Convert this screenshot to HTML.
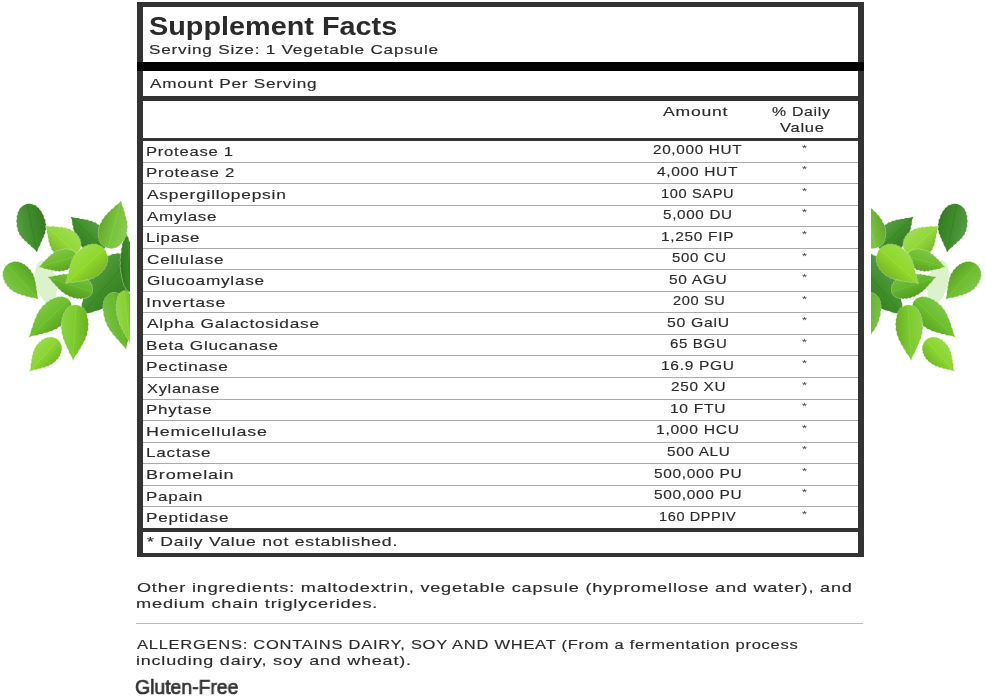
<!DOCTYPE html>
<html><head><meta charset="utf-8"><style>
html,body{margin:0;padding:0;background:#fff;width:986px;height:697px;overflow:hidden;position:relative}
.tx{position:absolute;height:0;line-height:0;white-space:pre;transform-origin:0 0;will-change:transform}
</style></head><body>
<div style="position:absolute;left:136.5px;top:2.15px;width:727.50px;height:4.65px;background:#333"></div>
<div style="position:absolute;left:136.5px;top:2.15px;width:6.50px;height:554.75px;background:#333"></div>
<div style="position:absolute;left:858px;top:2.15px;width:6.00px;height:554.75px;background:#333"></div>
<div style="position:absolute;left:136.5px;top:552.8px;width:727.50px;height:4.10px;background:#333"></div>
<div style="position:absolute;left:137px;top:62px;width:727px;height:9px;background:#000"></div>
<div style="position:absolute;left:143px;top:96.2px;width:715.00px;height:4.70px;background:#333"></div>
<div style="position:absolute;left:143px;top:138.2px;width:715px;height:2.8px;background:#333"></div>
<div style="position:absolute;left:143px;top:528.3px;width:715px;height:3.7px;background:#333"></div>
<div style="position:absolute;left:143px;top:161.60px;width:715px;height:1px;background:#aaa"></div>
<div style="position:absolute;left:143px;top:183.14px;width:715px;height:1px;background:#aaa"></div>
<div style="position:absolute;left:143px;top:204.68px;width:715px;height:1px;background:#aaa"></div>
<div style="position:absolute;left:143px;top:226.22px;width:715px;height:1px;background:#aaa"></div>
<div style="position:absolute;left:143px;top:247.76px;width:715px;height:1px;background:#aaa"></div>
<div style="position:absolute;left:143px;top:269.30px;width:715px;height:1px;background:#aaa"></div>
<div style="position:absolute;left:143px;top:290.84px;width:715px;height:1px;background:#aaa"></div>
<div style="position:absolute;left:143px;top:312.38px;width:715px;height:1px;background:#aaa"></div>
<div style="position:absolute;left:143px;top:333.92px;width:715px;height:1px;background:#aaa"></div>
<div style="position:absolute;left:143px;top:355.46px;width:715px;height:1px;background:#aaa"></div>
<div style="position:absolute;left:143px;top:377.00px;width:715px;height:1px;background:#aaa"></div>
<div style="position:absolute;left:143px;top:398.54px;width:715px;height:1px;background:#aaa"></div>
<div style="position:absolute;left:143px;top:420.08px;width:715px;height:1px;background:#aaa"></div>
<div style="position:absolute;left:143px;top:441.62px;width:715px;height:1px;background:#aaa"></div>
<div style="position:absolute;left:143px;top:463.16px;width:715px;height:1px;background:#aaa"></div>
<div style="position:absolute;left:143px;top:484.70px;width:715px;height:1px;background:#aaa"></div>
<div style="position:absolute;left:143px;top:506.24px;width:715px;height:1px;background:#aaa"></div>
<div class='tx' style='left:802.2px;top:147.80px;font-family:"Liberation Sans",sans-serif;font-size:9.5px;color:#444;transform:scaleX(1.35)'>*</div>
<div class='tx' style='left:802.2px;top:169.34px;font-family:"Liberation Sans",sans-serif;font-size:9.5px;color:#444;transform:scaleX(1.35)'>*</div>
<div class='tx' style='left:802.2px;top:190.88px;font-family:"Liberation Sans",sans-serif;font-size:9.5px;color:#444;transform:scaleX(1.35)'>*</div>
<div class='tx' style='left:802.2px;top:212.42px;font-family:"Liberation Sans",sans-serif;font-size:9.5px;color:#444;transform:scaleX(1.35)'>*</div>
<div class='tx' style='left:802.2px;top:233.96px;font-family:"Liberation Sans",sans-serif;font-size:9.5px;color:#444;transform:scaleX(1.35)'>*</div>
<div class='tx' style='left:802.2px;top:255.50px;font-family:"Liberation Sans",sans-serif;font-size:9.5px;color:#444;transform:scaleX(1.35)'>*</div>
<div class='tx' style='left:802.2px;top:277.04px;font-family:"Liberation Sans",sans-serif;font-size:9.5px;color:#444;transform:scaleX(1.35)'>*</div>
<div class='tx' style='left:802.2px;top:298.58px;font-family:"Liberation Sans",sans-serif;font-size:9.5px;color:#444;transform:scaleX(1.35)'>*</div>
<div class='tx' style='left:802.2px;top:320.12px;font-family:"Liberation Sans",sans-serif;font-size:9.5px;color:#444;transform:scaleX(1.35)'>*</div>
<div class='tx' style='left:802.2px;top:341.66px;font-family:"Liberation Sans",sans-serif;font-size:9.5px;color:#444;transform:scaleX(1.35)'>*</div>
<div class='tx' style='left:802.2px;top:363.20px;font-family:"Liberation Sans",sans-serif;font-size:9.5px;color:#444;transform:scaleX(1.35)'>*</div>
<div class='tx' style='left:802.2px;top:384.74px;font-family:"Liberation Sans",sans-serif;font-size:9.5px;color:#444;transform:scaleX(1.35)'>*</div>
<div class='tx' style='left:802.2px;top:406.28px;font-family:"Liberation Sans",sans-serif;font-size:9.5px;color:#444;transform:scaleX(1.35)'>*</div>
<div class='tx' style='left:802.2px;top:427.82px;font-family:"Liberation Sans",sans-serif;font-size:9.5px;color:#444;transform:scaleX(1.35)'>*</div>
<div class='tx' style='left:802.2px;top:449.36px;font-family:"Liberation Sans",sans-serif;font-size:9.5px;color:#444;transform:scaleX(1.35)'>*</div>
<div class='tx' style='left:802.2px;top:470.90px;font-family:"Liberation Sans",sans-serif;font-size:9.5px;color:#444;transform:scaleX(1.35)'>*</div>
<div class='tx' style='left:802.2px;top:492.44px;font-family:"Liberation Sans",sans-serif;font-size:9.5px;color:#444;transform:scaleX(1.35)'>*</div>
<div class='tx' style='left:802.2px;top:513.98px;font-family:"Liberation Sans",sans-serif;font-size:9.5px;color:#444;transform:scaleX(1.35)'>*</div>
<div style="position:absolute;left:136px;top:623px;width:727px;height:1px;background:#bbb"></div>
<svg style="position:absolute;left:0;top:0" width="130" height="697" viewBox="0 0 130 697"><defs><linearGradient id="Lg1" gradientUnits="userSpaceOnUse" x1="125.9" y1="294.9" x2="94.1" y2="267.5"><stop offset="0" stop-color="#367a23"/><stop offset="0.5" stop-color="#3f8e29"/><stop offset="1" stop-color="#569b42"/></linearGradient><linearGradient id="Lg2" gradientUnits="userSpaceOnUse" x1="121.1" y1="267.9" x2="136.1" y2="266.5"><stop offset="0" stop-color="#327620"/><stop offset="0.5" stop-color="#3b8a26"/><stop offset="1" stop-color="#529840"/></linearGradient><linearGradient id="Lg3" gradientUnits="userSpaceOnUse" x1="29.4" y1="269.5" x2="9.4" y2="287.7"><stop offset="0" stop-color="#5ca227"/><stop offset="0.5" stop-color="#6cbd2e"/><stop offset="1" stop-color="#7dc447"/></linearGradient><linearGradient id="Lg4" gradientUnits="userSpaceOnUse" x1="44.7" y1="220.3" x2="17.3" y2="226.1"><stop offset="0" stop-color="#367924"/><stop offset="0.5" stop-color="#3f8d2b"/><stop offset="1" stop-color="#569a44"/></linearGradient><linearGradient id="Lg5" gradientUnits="userSpaceOnUse" x1="81.4" y1="245.9" x2="100.2" y2="226.5"><stop offset="0" stop-color="#367a24"/><stop offset="0.5" stop-color="#3f8f2a"/><stop offset="1" stop-color="#569c43"/></linearGradient><linearGradient id="Lg6" gradientUnits="userSpaceOnUse" x1="100.2" y1="225.6" x2="126.2" y2="232.8"><stop offset="0" stop-color="#67a831"/><stop offset="0.5" stop-color="#78c43a"/><stop offset="1" stop-color="#88cb51"/></linearGradient><linearGradient id="Lg7" gradientUnits="userSpaceOnUse" x1="55.2" y1="253.2" x2="74.0" y2="232.4"><stop offset="0" stop-color="#7db930"/><stop offset="0.5" stop-color="#92d838"/><stop offset="1" stop-color="#9fdc4f"/></linearGradient><linearGradient id="Lg8" gradientUnits="userSpaceOnUse" x1="64.6" y1="270.0" x2="59.0" y2="250.8"><stop offset="0" stop-color="#5da225"/><stop offset="0.5" stop-color="#6dbd2c"/><stop offset="1" stop-color="#7ec445"/></linearGradient><linearGradient id="Lg9" gradientUnits="userSpaceOnUse" x1="70.9" y1="296.4" x2="77.9" y2="275.6"><stop offset="0" stop-color="#549b24"/><stop offset="0.5" stop-color="#62b52a"/><stop offset="1" stop-color="#74bd43"/></linearGradient><linearGradient id="Lg10" gradientUnits="userSpaceOnUse" x1="98.8" y1="273.8" x2="78.8" y2="251.4"><stop offset="0" stop-color="#7ab925"/><stop offset="0.5" stop-color="#8fd82c"/><stop offset="1" stop-color="#9cdc45"/></linearGradient><linearGradient id="Lg11" gradientUnits="userSpaceOnUse" x1="61.8" y1="324.3" x2="44.2" y2="305.3"><stop offset="0" stop-color="#5ca425"/><stop offset="0.5" stop-color="#6cbf2c"/><stop offset="1" stop-color="#7dc645"/></linearGradient><linearGradient id="Lg12" gradientUnits="userSpaceOnUse" x1="130.2" y1="312.2" x2="105.0" y2="318.6"><stop offset="0" stop-color="#579e25"/><stop offset="0.5" stop-color="#66b82c"/><stop offset="1" stop-color="#78c045"/></linearGradient><linearGradient id="Lg13" gradientUnits="userSpaceOnUse" x1="135.3" y1="310.8" x2="117.5" y2="312.8"><stop offset="0" stop-color="#73b229"/><stop offset="0.5" stop-color="#86d030"/><stop offset="1" stop-color="#94d548"/></linearGradient><linearGradient id="Lg14" gradientUnits="userSpaceOnUse" x1="87.8" y1="327.7" x2="61.8" y2="326.3"><stop offset="0" stop-color="#6aaf25"/><stop offset="0.5" stop-color="#7ccc2c"/><stop offset="1" stop-color="#8bd245"/></linearGradient><linearGradient id="Lg15" gradientUnits="userSpaceOnUse" x1="55.7" y1="360.4" x2="37.9" y2="344.4"><stop offset="0" stop-color="#76b829"/><stop offset="0.5" stop-color="#8ad630"/><stop offset="1" stop-color="#98da48"/></linearGradient></defs><ellipse cx="46" cy="282" rx="10" ry="22" transform="rotate(-12 46 282)" fill="#dcf2cc"/><path d="M130.0,258.0 L127.9,256.4 L125.6,255.2 L123.2,254.4 L120.7,253.9 L117.6,253.3 L115.5,254.0 L112.4,254.1 L110.2,255.4 L107.0,256.1 L104.9,257.9 L101.8,259.2 L99.8,261.6 L96.9,263.4 L95.1,266.3 L92.1,269.0 L90.6,272.7 L88.4,275.5 L87.5,279.3 L85.8,282.2 L85.4,286.2 L84.1,289.3 L84.0,293.3 L82.9,296.5 L82.9,300.7 L81.8,304.0 L81.6,308.3 L80.9,312.1 L80.0,316.0 L80.0,316.0 L83.7,314.5 L87.4,313.2 L91.6,312.5 L94.7,310.9 L98.8,310.3 L101.8,308.7 L105.8,308.0 L108.7,306.3 L112.5,305.3 L115.2,303.2 L118.9,301.8 L121.3,299.1 L124.7,297.1 L126.9,293.8 L129.5,291.6 L130.9,288.4 L133.0,286.1 L133.8,282.8 L135.3,280.4 L135.5,277.2 L136.5,274.9 L136.1,271.7 L136.4,269.5 L135.4,266.6 L134.6,264.2 L133.4,261.9 L131.9,259.9 L130.0,258.0Z" fill="none" stroke="#d8f2b8" stroke-width="1.4" opacity="0.5"/><path d="M130.0,258.0 L127.9,256.4 L125.6,255.2 L123.2,254.4 L120.7,253.9 L117.6,253.3 L115.5,254.0 L112.4,254.1 L110.2,255.4 L107.0,256.1 L104.9,257.9 L101.8,259.2 L99.8,261.6 L96.9,263.4 L95.1,266.3 L92.1,269.0 L90.6,272.7 L88.4,275.5 L87.5,279.3 L85.8,282.2 L85.4,286.2 L84.1,289.3 L84.0,293.3 L82.9,296.5 L82.9,300.7 L81.8,304.0 L81.6,308.3 L80.9,312.1 L80.0,316.0 L80.0,316.0 L83.7,314.5 L87.4,313.2 L91.6,312.5 L94.7,310.9 L98.8,310.3 L101.8,308.7 L105.8,308.0 L108.7,306.3 L112.5,305.3 L115.2,303.2 L118.9,301.8 L121.3,299.1 L124.7,297.1 L126.9,293.8 L129.5,291.6 L130.9,288.4 L133.0,286.1 L133.8,282.8 L135.3,280.4 L135.5,277.2 L136.5,274.9 L136.1,271.7 L136.4,269.5 L135.4,266.6 L134.6,264.2 L133.4,261.9 L131.9,259.9 L130.0,258.0Z" fill="url(#Lg1)"/><path d="M130.0,258.0L80.0,316.0" stroke="#2f7520" stroke-width="0.9" opacity="0.45"/><path d="M131.0,292.0 L131.9,291.8 L132.8,291.2 L133.5,290.4 L134.2,289.3 L135.5,287.8 L135.3,286.3 L136.4,284.5 L136.1,282.6 L137.0,280.4 L136.5,278.1 L137.3,275.6 L136.5,273.1 L137.1,270.4 L136.2,267.7 L136.5,264.4 L135.3,261.5 L135.4,258.5 L134.1,255.9 L134.0,253.1 L132.5,250.6 L132.3,248.0 L130.7,245.6 L130.5,243.1 L128.8,240.6 L128.6,238.0 L126.9,235.5 L125.9,232.8 L125.0,230.0 L125.0,230.0 L124.6,232.9 L124.2,235.7 L123.0,238.6 L123.3,241.2 L122.1,243.9 L122.4,246.4 L121.2,249.1 L121.6,251.7 L120.6,254.4 L121.1,257.1 L120.2,260.0 L120.9,262.9 L120.3,266.0 L121.3,269.2 L120.9,272.0 L122.0,274.5 L121.7,277.1 L123.0,279.4 L122.9,281.7 L124.2,283.7 L124.2,285.7 L125.7,287.3 L125.8,288.8 L127.3,289.9 L128.2,290.9 L129.1,291.6 L130.0,291.9 L131.0,292.0Z" fill="none" stroke="#d8f2b8" stroke-width="1.4" opacity="0.5"/><path d="M131.0,292.0 L131.9,291.8 L132.8,291.2 L133.5,290.4 L134.2,289.3 L135.5,287.8 L135.3,286.3 L136.4,284.5 L136.1,282.6 L137.0,280.4 L136.5,278.1 L137.3,275.6 L136.5,273.1 L137.1,270.4 L136.2,267.7 L136.5,264.4 L135.3,261.5 L135.4,258.5 L134.1,255.9 L134.0,253.1 L132.5,250.6 L132.3,248.0 L130.7,245.6 L130.5,243.1 L128.8,240.6 L128.6,238.0 L126.9,235.5 L125.9,232.8 L125.0,230.0 L125.0,230.0 L124.6,232.9 L124.2,235.7 L123.0,238.6 L123.3,241.2 L122.1,243.9 L122.4,246.4 L121.2,249.1 L121.6,251.7 L120.6,254.4 L121.1,257.1 L120.2,260.0 L120.9,262.9 L120.3,266.0 L121.3,269.2 L120.9,272.0 L122.0,274.5 L121.7,277.1 L123.0,279.4 L122.9,281.7 L124.2,283.7 L124.2,285.7 L125.7,287.3 L125.8,288.8 L127.3,289.9 L128.2,290.9 L129.1,291.6 L130.0,291.9 L131.0,292.0Z" fill="url(#Lg2)"/><path d="M131.0,292.0L125.0,230.0" stroke="#2f7520" stroke-width="0.9" opacity="0.45"/><path d="M7.0,265.0 L5.8,266.2 L4.9,267.6 L4.1,269.0 L3.6,270.5 L2.8,272.6 L3.2,273.7 L2.7,275.9 L3.5,277.1 L3.4,279.3 L4.6,280.5 L4.9,282.7 L6.4,283.8 L7.0,285.9 L8.8,287.0 L10.0,289.2 L12.3,290.1 L13.6,291.8 L16.1,292.4 L17.5,293.8 L20.1,294.1 L21.7,295.2 L24.4,295.3 L26.1,296.4 L28.8,296.4 L30.6,297.4 L33.4,297.6 L35.7,298.2 L38.0,299.0 L38.0,299.0 L37.5,296.6 L37.0,294.3 L37.1,291.5 L36.3,289.6 L36.5,286.9 L35.6,285.1 L35.7,282.4 L34.7,280.7 L34.7,278.1 L33.5,276.5 L33.1,274.1 L31.5,272.6 L30.8,270.2 L28.8,268.8 L27.8,266.9 L25.8,266.1 L24.8,264.5 L22.7,264.0 L21.5,262.7 L19.4,262.6 L18.2,261.7 L16.0,262.0 L14.9,261.5 L12.8,262.1 L11.2,262.5 L9.7,263.1 L8.3,263.9 L7.0,265.0Z" fill="none" stroke="#d8f2b8" stroke-width="1.4" opacity="0.5"/><path d="M7.0,265.0 L5.8,266.2 L4.9,267.6 L4.1,269.0 L3.6,270.5 L2.8,272.6 L3.2,273.7 L2.7,275.9 L3.5,277.1 L3.4,279.3 L4.6,280.5 L4.9,282.7 L6.4,283.8 L7.0,285.9 L8.8,287.0 L10.0,289.2 L12.3,290.1 L13.6,291.8 L16.1,292.4 L17.5,293.8 L20.1,294.1 L21.7,295.2 L24.4,295.3 L26.1,296.4 L28.8,296.4 L30.6,297.4 L33.4,297.6 L35.7,298.2 L38.0,299.0 L38.0,299.0 L37.5,296.6 L37.0,294.3 L37.1,291.5 L36.3,289.6 L36.5,286.9 L35.6,285.1 L35.7,282.4 L34.7,280.7 L34.7,278.1 L33.5,276.5 L33.1,274.1 L31.5,272.6 L30.8,270.2 L28.8,268.8 L27.8,266.9 L25.8,266.1 L24.8,264.5 L22.7,264.0 L21.5,262.7 L19.4,262.6 L18.2,261.7 L16.0,262.0 L14.9,261.5 L12.8,262.1 L11.2,262.5 L9.7,263.1 L8.3,263.9 L7.0,265.0Z" fill="url(#Lg3)"/><path d="M7.0,265.0L38.0,299.0" stroke="#8fd050" stroke-width="0.9" opacity="0.45"/><path d="M27.0,204.0 L25.3,204.5 L23.8,205.3 L22.4,206.3 L21.1,207.5 L19.4,209.1 L19.1,210.6 L17.7,212.6 L17.8,214.4 L16.7,216.6 L17.1,218.7 L16.3,221.2 L17.1,223.4 L16.7,226.1 L17.8,228.5 L17.7,230.8 L19.1,232.6 L19.4,234.5 L21.2,236.1 L21.8,237.8 L23.9,239.2 L24.7,240.8 L26.9,242.1 L27.9,243.7 L30.2,245.1 L31.2,246.8 L33.6,248.3 L35.3,250.1 L37.0,252.0 L37.0,252.0 L37.8,249.6 L38.6,247.2 L40.2,244.9 L40.4,242.9 L42.1,240.7 L42.3,238.9 L43.8,236.8 L43.9,235.0 L45.3,232.9 L45.1,231.1 L46.2,229.0 L45.6,227.1 L46.2,224.8 L45.2,222.7 L45.3,220.1 L43.8,217.9 L43.6,215.5 L42.0,213.5 L41.5,211.5 L39.6,209.8 L38.9,208.1 L36.8,206.9 L36.0,205.6 L33.8,204.9 L32.1,204.2 L30.5,203.9 L28.7,203.8 L27.0,204.0Z" fill="none" stroke="#d8f2b8" stroke-width="1.4" opacity="0.5"/><path d="M27.0,204.0 L25.3,204.5 L23.8,205.3 L22.4,206.3 L21.1,207.5 L19.4,209.1 L19.1,210.6 L17.7,212.6 L17.8,214.4 L16.7,216.6 L17.1,218.7 L16.3,221.2 L17.1,223.4 L16.7,226.1 L17.8,228.5 L17.7,230.8 L19.1,232.6 L19.4,234.5 L21.2,236.1 L21.8,237.8 L23.9,239.2 L24.7,240.8 L26.9,242.1 L27.9,243.7 L30.2,245.1 L31.2,246.8 L33.6,248.3 L35.3,250.1 L37.0,252.0 L37.0,252.0 L37.8,249.6 L38.6,247.2 L40.2,244.9 L40.4,242.9 L42.1,240.7 L42.3,238.9 L43.8,236.8 L43.9,235.0 L45.3,232.9 L45.1,231.1 L46.2,229.0 L45.6,227.1 L46.2,224.8 L45.2,222.7 L45.3,220.1 L43.8,217.9 L43.6,215.5 L42.0,213.5 L41.5,211.5 L39.6,209.8 L38.9,208.1 L36.8,206.9 L36.0,205.6 L33.8,204.9 L32.1,204.2 L30.5,203.9 L28.7,203.8 L27.0,204.0Z" fill="url(#Lg4)"/><path d="M27.0,204.0L37.0,252.0" stroke="#2d7020" stroke-width="0.9" opacity="0.45"/><path d="M104.0,249.0 L105.1,247.7 L106.0,246.3 L106.6,244.8 L107.0,243.3 L107.8,241.2 L107.3,240.1 L107.6,237.9 L106.8,236.7 L106.7,234.5 L105.5,233.4 L105.1,231.3 L103.5,230.2 L102.7,228.1 L100.9,227.1 L99.6,225.1 L97.2,224.3 L95.8,222.6 L93.3,222.2 L91.7,221.0 L89.1,220.8 L87.5,219.8 L84.8,219.8 L83.1,218.9 L80.3,219.0 L78.5,218.1 L75.7,218.1 L73.4,217.6 L71.0,217.0 L71.0,217.0 L71.7,219.3 L72.3,221.7 L72.3,224.5 L73.3,226.2 L73.3,229.0 L74.2,230.7 L74.3,233.4 L75.4,235.0 L75.6,237.6 L76.9,239.1 L77.4,241.6 L79.1,243.0 L80.0,245.3 L82.1,246.5 L83.1,248.4 L85.2,249.1 L86.3,250.6 L88.4,251.0 L89.6,252.1 L91.8,252.1 L93.0,253.0 L95.2,252.6 L96.3,253.0 L98.4,252.2 L99.9,251.7 L101.4,251.0 L102.7,250.1 L104.0,249.0Z" fill="none" stroke="#d8f2b8" stroke-width="1.4" opacity="0.5"/><path d="M104.0,249.0 L105.1,247.7 L106.0,246.3 L106.6,244.8 L107.0,243.3 L107.8,241.2 L107.3,240.1 L107.6,237.9 L106.8,236.7 L106.7,234.5 L105.5,233.4 L105.1,231.3 L103.5,230.2 L102.7,228.1 L100.9,227.1 L99.6,225.1 L97.2,224.3 L95.8,222.6 L93.3,222.2 L91.7,221.0 L89.1,220.8 L87.5,219.8 L84.8,219.8 L83.1,218.9 L80.3,219.0 L78.5,218.1 L75.7,218.1 L73.4,217.6 L71.0,217.0 L71.0,217.0 L71.7,219.3 L72.3,221.7 L72.3,224.5 L73.3,226.2 L73.3,229.0 L74.2,230.7 L74.3,233.4 L75.4,235.0 L75.6,237.6 L76.9,239.1 L77.4,241.6 L79.1,243.0 L80.0,245.3 L82.1,246.5 L83.1,248.4 L85.2,249.1 L86.3,250.6 L88.4,251.0 L89.6,252.1 L91.8,252.1 L93.0,253.0 L95.2,252.6 L96.3,253.0 L98.4,252.2 L99.9,251.7 L101.4,251.0 L102.7,250.1 L104.0,249.0Z" fill="url(#Lg5)"/><path d="M104.0,249.0L71.0,217.0" stroke="#2f7520" stroke-width="0.9" opacity="0.45"/><path d="M108.0,248.0 L109.7,248.3 L111.3,248.4 L112.9,248.2 L114.5,247.8 L116.7,247.4 L117.5,246.4 L119.6,245.5 L120.2,244.2 L122.1,243.0 L122.6,241.2 L124.3,239.7 L124.5,237.7 L126.0,236.0 L126.0,233.7 L127.2,231.5 L126.8,228.9 L127.6,226.7 L126.8,224.2 L127.2,222.1 L126.1,219.7 L126.2,217.6 L124.9,215.2 L124.9,213.1 L123.6,210.6 L123.5,208.5 L122.2,205.9 L121.6,203.5 L121.0,201.0 L121.0,201.0 L119.2,202.9 L117.5,204.6 L115.0,206.1 L113.9,207.9 L111.4,209.3 L110.3,211.1 L108.0,212.6 L107.0,214.4 L104.8,215.9 L104.1,217.9 L102.1,219.7 L101.7,221.9 L100.0,224.0 L99.9,226.5 L98.8,228.5 L99.1,230.7 L98.3,232.6 L99.0,234.7 L98.5,236.4 L99.5,238.4 L99.3,240.0 L100.7,241.7 L100.8,243.0 L102.5,244.5 L103.7,245.7 L105.0,246.6 L106.4,247.4 L108.0,248.0Z" fill="none" stroke="#d8f2b8" stroke-width="1.4" opacity="0.5"/><path d="M108.0,248.0 L109.7,248.3 L111.3,248.4 L112.9,248.2 L114.5,247.8 L116.7,247.4 L117.5,246.4 L119.6,245.5 L120.2,244.2 L122.1,243.0 L122.6,241.2 L124.3,239.7 L124.5,237.7 L126.0,236.0 L126.0,233.7 L127.2,231.5 L126.8,228.9 L127.6,226.7 L126.8,224.2 L127.2,222.1 L126.1,219.7 L126.2,217.6 L124.9,215.2 L124.9,213.1 L123.6,210.6 L123.5,208.5 L122.2,205.9 L121.6,203.5 L121.0,201.0 L121.0,201.0 L119.2,202.9 L117.5,204.6 L115.0,206.1 L113.9,207.9 L111.4,209.3 L110.3,211.1 L108.0,212.6 L107.0,214.4 L104.8,215.9 L104.1,217.9 L102.1,219.7 L101.7,221.9 L100.0,224.0 L99.9,226.5 L98.8,228.5 L99.1,230.7 L98.3,232.6 L99.0,234.7 L98.5,236.4 L99.5,238.4 L99.3,240.0 L100.7,241.7 L100.8,243.0 L102.5,244.5 L103.7,245.7 L105.0,246.6 L106.4,247.4 L108.0,248.0Z" fill="url(#Lg6)"/><path d="M108.0,248.0L121.0,201.0" stroke="#9bd860" stroke-width="0.9" opacity="0.45"/><path d="M77.0,254.0 L78.1,252.6 L79.0,251.2 L79.7,249.7 L80.1,248.1 L80.9,246.0 L80.5,244.9 L80.8,242.8 L80.0,241.7 L80.0,239.6 L78.9,238.6 L78.5,236.6 L77.1,235.7 L76.4,233.8 L74.6,233.0 L73.4,231.1 L71.2,230.5 L69.8,229.1 L67.4,228.9 L65.9,227.8 L63.4,227.9 L61.9,227.1 L59.3,227.4 L57.6,226.7 L54.9,227.0 L53.2,226.3 L50.5,226.7 L48.3,226.4 L46.0,226.0 L46.0,226.0 L46.6,228.2 L47.1,230.4 L47.1,233.1 L47.9,234.8 L47.9,237.5 L48.7,239.1 L48.7,241.7 L49.7,243.2 L49.8,245.6 L51.1,247.0 L51.5,249.4 L53.0,250.6 L53.8,252.7 L55.8,253.7 L56.8,255.4 L58.8,255.9 L59.8,257.3 L61.9,257.4 L63.0,258.5 L65.1,258.3 L66.3,258.9 L68.3,258.4 L69.5,258.6 L71.5,257.7 L73.0,257.1 L74.4,256.3 L75.7,255.2 L77.0,254.0Z" fill="none" stroke="#d8f2b8" stroke-width="1.4" opacity="0.5"/><path d="M77.0,254.0 L78.1,252.6 L79.0,251.2 L79.7,249.7 L80.1,248.1 L80.9,246.0 L80.5,244.9 L80.8,242.8 L80.0,241.7 L80.0,239.6 L78.9,238.6 L78.5,236.6 L77.1,235.7 L76.4,233.8 L74.6,233.0 L73.4,231.1 L71.2,230.5 L69.8,229.1 L67.4,228.9 L65.9,227.8 L63.4,227.9 L61.9,227.1 L59.3,227.4 L57.6,226.7 L54.9,227.0 L53.2,226.3 L50.5,226.7 L48.3,226.4 L46.0,226.0 L46.0,226.0 L46.6,228.2 L47.1,230.4 L47.1,233.1 L47.9,234.8 L47.9,237.5 L48.7,239.1 L48.7,241.7 L49.7,243.2 L49.8,245.6 L51.1,247.0 L51.5,249.4 L53.0,250.6 L53.8,252.7 L55.8,253.7 L56.8,255.4 L58.8,255.9 L59.8,257.3 L61.9,257.4 L63.0,258.5 L65.1,258.3 L66.3,258.9 L68.3,258.4 L69.5,258.6 L71.5,257.7 L73.0,257.1 L74.4,256.3 L75.7,255.2 L77.0,254.0Z" fill="url(#Lg7)"/><path d="M77.0,254.0L46.0,226.0" stroke="#b0e660" stroke-width="0.9" opacity="0.45"/><path d="M77.0,256.0 L76.6,254.8 L75.9,253.8 L75.2,252.8 L74.2,252.0 L73.0,250.6 L72.0,250.7 L70.5,249.6 L69.4,249.9 L67.7,249.0 L66.4,249.6 L64.6,249.0 L63.1,249.8 L61.3,249.5 L59.8,250.6 L57.6,250.6 L56.0,252.0 L54.2,252.2 L52.8,253.9 L51.1,254.4 L49.9,256.2 L48.4,256.8 L47.3,258.8 L45.8,259.4 L44.6,261.5 L43.1,262.2 L41.9,264.3 L40.5,265.6 L39.0,267.0 L39.0,267.0 L41.0,267.3 L42.9,267.7 L45.0,268.9 L46.7,268.7 L48.8,269.8 L50.4,269.6 L52.4,270.6 L54.0,270.3 L56.0,271.2 L57.7,270.7 L59.7,271.4 L61.4,270.6 L63.5,270.9 L65.3,269.8 L67.2,269.9 L68.6,268.6 L70.2,268.5 L71.4,267.1 L72.9,266.8 L73.8,265.2 L75.0,264.9 L75.6,263.1 L76.5,262.7 L76.8,260.9 L77.1,259.7 L77.3,258.5 L77.3,257.2 L77.0,256.0Z" fill="none" stroke="#d8f2b8" stroke-width="1.4" opacity="0.5"/><path d="M77.0,256.0 L76.6,254.8 L75.9,253.8 L75.2,252.8 L74.2,252.0 L73.0,250.6 L72.0,250.7 L70.5,249.6 L69.4,249.9 L67.7,249.0 L66.4,249.6 L64.6,249.0 L63.1,249.8 L61.3,249.5 L59.8,250.6 L57.6,250.6 L56.0,252.0 L54.2,252.2 L52.8,253.9 L51.1,254.4 L49.9,256.2 L48.4,256.8 L47.3,258.8 L45.8,259.4 L44.6,261.5 L43.1,262.2 L41.9,264.3 L40.5,265.6 L39.0,267.0 L39.0,267.0 L41.0,267.3 L42.9,267.7 L45.0,268.9 L46.7,268.7 L48.8,269.8 L50.4,269.6 L52.4,270.6 L54.0,270.3 L56.0,271.2 L57.7,270.7 L59.7,271.4 L61.4,270.6 L63.5,270.9 L65.3,269.8 L67.2,269.9 L68.6,268.6 L70.2,268.5 L71.4,267.1 L72.9,266.8 L73.8,265.2 L75.0,264.9 L75.6,263.1 L76.5,262.7 L76.8,260.9 L77.1,259.7 L77.3,258.5 L77.3,257.2 L77.0,256.0Z" fill="url(#Lg8)"/><path d="M77.0,256.0L39.0,267.0" stroke="#8ed24a" stroke-width="0.9" opacity="0.45"/><path d="M92.0,292.0 L92.3,290.7 L92.4,289.3 L92.3,288.0 L91.9,286.6 L91.6,284.6 L90.6,284.0 L89.9,282.1 L88.5,281.6 L87.5,279.8 L85.8,279.4 L84.5,277.7 L82.6,277.4 L81.0,276.0 L78.8,275.9 L76.7,274.5 L74.3,274.7 L72.3,273.8 L69.9,274.3 L68.0,273.7 L65.6,274.5 L63.7,274.1 L61.4,275.0 L59.4,274.7 L57.1,275.8 L55.1,275.5 L52.6,276.5 L50.3,276.8 L48.0,277.0 L48.0,277.0 L49.7,278.6 L51.3,280.2 L52.7,282.5 L54.4,283.5 L55.7,285.8 L57.4,286.7 L58.6,288.9 L60.4,289.7 L61.8,291.8 L63.7,292.5 L65.3,294.4 L67.4,294.8 L69.3,296.5 L71.7,296.7 L73.5,298.0 L75.6,297.8 L77.3,298.7 L79.4,298.2 L81.0,298.9 L82.9,298.1 L84.3,298.5 L86.0,297.5 L87.2,297.6 L88.7,296.2 L89.8,295.4 L90.7,294.4 L91.4,293.3 L92.0,292.0Z" fill="none" stroke="#d8f2b8" stroke-width="1.4" opacity="0.5"/><path d="M92.0,292.0 L92.3,290.7 L92.4,289.3 L92.3,288.0 L91.9,286.6 L91.6,284.6 L90.6,284.0 L89.9,282.1 L88.5,281.6 L87.5,279.8 L85.8,279.4 L84.5,277.7 L82.6,277.4 L81.0,276.0 L78.8,275.9 L76.7,274.5 L74.3,274.7 L72.3,273.8 L69.9,274.3 L68.0,273.7 L65.6,274.5 L63.7,274.1 L61.4,275.0 L59.4,274.7 L57.1,275.8 L55.1,275.5 L52.6,276.5 L50.3,276.8 L48.0,277.0 L48.0,277.0 L49.7,278.6 L51.3,280.2 L52.7,282.5 L54.4,283.5 L55.7,285.8 L57.4,286.7 L58.6,288.9 L60.4,289.7 L61.8,291.8 L63.7,292.5 L65.3,294.4 L67.4,294.8 L69.3,296.5 L71.7,296.7 L73.5,298.0 L75.6,297.8 L77.3,298.7 L79.4,298.2 L81.0,298.9 L82.9,298.1 L84.3,298.5 L86.0,297.5 L87.2,297.6 L88.7,296.2 L89.8,295.4 L90.7,294.4 L91.4,293.3 L92.0,292.0Z" fill="url(#Lg9)"/><path d="M92.0,292.0L48.0,277.0" stroke="#80c84a" stroke-width="0.9" opacity="0.45"/><path d="M104.0,249.0 L102.6,247.7 L101.2,246.6 L99.6,245.8 L97.9,245.2 L95.7,244.3 L94.4,244.6 L92.0,244.2 L90.6,245.0 L88.3,244.9 L86.8,246.1 L84.5,246.5 L83.1,248.1 L80.8,248.8 L79.6,250.7 L77.2,252.1 L76.1,254.6 L74.2,256.1 L73.5,258.7 L72.0,260.4 L71.6,263.2 L70.4,265.0 L70.2,267.9 L69.1,269.9 L68.9,272.9 L67.8,274.8 L67.6,277.9 L66.9,280.4 L66.0,283.0 L66.0,283.0 L68.6,282.4 L71.3,281.9 L74.3,282.1 L76.4,281.2 L79.4,281.4 L81.4,280.5 L84.3,280.6 L86.3,279.6 L89.1,279.5 L90.9,278.2 L93.7,277.8 L95.4,276.1 L98.0,275.3 L99.6,273.1 L101.6,272.1 L102.6,269.9 L104.4,268.7 L105.0,266.4 L106.3,265.1 L106.5,262.7 L107.5,261.4 L107.3,259.1 L107.8,257.8 L107.1,255.5 L106.7,253.7 L106.1,252.1 L105.2,250.5 L104.0,249.0Z" fill="none" stroke="#d8f2b8" stroke-width="1.4" opacity="0.5"/><path d="M104.0,249.0 L102.6,247.7 L101.2,246.6 L99.6,245.8 L97.9,245.2 L95.7,244.3 L94.4,244.6 L92.0,244.2 L90.6,245.0 L88.3,244.9 L86.8,246.1 L84.5,246.5 L83.1,248.1 L80.8,248.8 L79.6,250.7 L77.2,252.1 L76.1,254.6 L74.2,256.1 L73.5,258.7 L72.0,260.4 L71.6,263.2 L70.4,265.0 L70.2,267.9 L69.1,269.9 L68.9,272.9 L67.8,274.8 L67.6,277.9 L66.9,280.4 L66.0,283.0 L66.0,283.0 L68.6,282.4 L71.3,281.9 L74.3,282.1 L76.4,281.2 L79.4,281.4 L81.4,280.5 L84.3,280.6 L86.3,279.6 L89.1,279.5 L90.9,278.2 L93.7,277.8 L95.4,276.1 L98.0,275.3 L99.6,273.1 L101.6,272.1 L102.6,269.9 L104.4,268.7 L105.0,266.4 L106.3,265.1 L106.5,262.7 L107.5,261.4 L107.3,259.1 L107.8,257.8 L107.1,255.5 L106.7,253.7 L106.1,252.1 L105.2,250.5 L104.0,249.0Z" fill="url(#Lg10)"/><path d="M104.0,249.0L66.0,283.0" stroke="#aee556" stroke-width="0.9" opacity="0.45"/><path d="M69.0,300.0 L67.8,298.9 L66.4,298.0 L65.0,297.4 L63.4,297.0 L61.2,296.4 L60.0,296.9 L57.7,296.7 L56.3,297.7 L53.9,297.9 L52.5,299.2 L50.1,299.8 L48.7,301.5 L46.3,302.4 L45.0,304.5 L42.5,306.0 L41.2,308.6 L39.2,310.2 L38.4,312.9 L36.7,314.6 L36.2,317.4 L34.8,319.2 L34.4,322.1 L33.1,324.0 L32.7,326.9 L31.4,328.9 L31.0,331.9 L30.1,334.4 L29.0,337.0 L29.0,337.0 L31.6,336.1 L34.2,335.4 L37.3,335.2 L39.3,334.1 L42.3,334.0 L44.3,332.8 L47.2,332.6 L49.1,331.4 L51.9,331.0 L53.8,329.5 L56.5,328.9 L58.3,327.0 L61.0,325.9 L62.6,323.6 L64.8,322.4 L65.9,320.2 L67.7,318.9 L68.5,316.5 L70.0,315.2 L70.3,312.9 L71.4,311.6 L71.3,309.3 L72.0,308.0 L71.5,305.8 L71.3,304.2 L70.8,302.7 L70.0,301.3 L69.0,300.0Z" fill="none" stroke="#d8f2b8" stroke-width="1.4" opacity="0.5"/><path d="M69.0,300.0 L67.8,298.9 L66.4,298.0 L65.0,297.4 L63.4,297.0 L61.2,296.4 L60.0,296.9 L57.7,296.7 L56.3,297.7 L53.9,297.9 L52.5,299.2 L50.1,299.8 L48.7,301.5 L46.3,302.4 L45.0,304.5 L42.5,306.0 L41.2,308.6 L39.2,310.2 L38.4,312.9 L36.7,314.6 L36.2,317.4 L34.8,319.2 L34.4,322.1 L33.1,324.0 L32.7,326.9 L31.4,328.9 L31.0,331.9 L30.1,334.4 L29.0,337.0 L29.0,337.0 L31.6,336.1 L34.2,335.4 L37.3,335.2 L39.3,334.1 L42.3,334.0 L44.3,332.8 L47.2,332.6 L49.1,331.4 L51.9,331.0 L53.8,329.5 L56.5,328.9 L58.3,327.0 L61.0,325.9 L62.6,323.6 L64.8,322.4 L65.9,320.2 L67.7,318.9 L68.5,316.5 L70.0,315.2 L70.3,312.9 L71.4,311.6 L71.3,309.3 L72.0,308.0 L71.5,305.8 L71.3,304.2 L70.8,302.7 L70.0,301.3 L69.0,300.0Z" fill="url(#Lg11)"/><path d="M69.0,300.0L29.0,337.0" stroke="#8cd14c" stroke-width="0.9" opacity="0.45"/><path d="M112.0,293.0 L110.5,293.5 L109.1,294.3 L107.8,295.4 L106.7,296.6 L105.1,298.3 L105.0,299.7 L103.7,301.7 L104.0,303.5 L103.0,305.8 L103.6,307.8 L102.9,310.3 L103.8,312.5 L103.5,315.1 L104.7,317.4 L104.9,320.5 L106.6,323.0 L107.0,325.6 L109.0,327.8 L109.8,330.2 L112.0,332.2 L112.9,334.4 L115.3,336.3 L116.4,338.5 L118.8,340.3 L120.0,342.6 L122.4,344.5 L124.2,346.7 L126.0,349.0 L126.0,349.0 L126.5,346.1 L127.0,343.4 L128.3,340.5 L128.2,338.0 L129.5,335.2 L129.5,332.8 L130.7,330.0 L130.5,327.6 L131.5,324.8 L131.0,322.3 L131.7,319.5 L130.9,316.9 L131.2,313.9 L129.9,311.1 L129.9,308.5 L128.4,306.3 L128.2,304.0 L126.4,302.1 L125.9,300.0 L124.0,298.5 L123.4,296.8 L121.3,295.7 L120.5,294.4 L118.4,293.7 L116.8,293.1 L115.2,292.8 L113.6,292.7 L112.0,293.0Z" fill="none" stroke="#d8f2b8" stroke-width="1.4" opacity="0.5"/><path d="M112.0,293.0 L110.5,293.5 L109.1,294.3 L107.8,295.4 L106.7,296.6 L105.1,298.3 L105.0,299.7 L103.7,301.7 L104.0,303.5 L103.0,305.8 L103.6,307.8 L102.9,310.3 L103.8,312.5 L103.5,315.1 L104.7,317.4 L104.9,320.5 L106.6,323.0 L107.0,325.6 L109.0,327.8 L109.8,330.2 L112.0,332.2 L112.9,334.4 L115.3,336.3 L116.4,338.5 L118.8,340.3 L120.0,342.6 L122.4,344.5 L124.2,346.7 L126.0,349.0 L126.0,349.0 L126.5,346.1 L127.0,343.4 L128.3,340.5 L128.2,338.0 L129.5,335.2 L129.5,332.8 L130.7,330.0 L130.5,327.6 L131.5,324.8 L131.0,322.3 L131.7,319.5 L130.9,316.9 L131.2,313.9 L129.9,311.1 L129.9,308.5 L128.4,306.3 L128.2,304.0 L126.4,302.1 L125.9,300.0 L124.0,298.5 L123.4,296.8 L121.3,295.7 L120.5,294.4 L118.4,293.7 L116.8,293.1 L115.2,292.8 L113.6,292.7 L112.0,293.0Z" fill="url(#Lg12)"/><path d="M112.0,293.0L126.0,349.0" stroke="#80c84a" stroke-width="0.9" opacity="0.45"/><path d="M124.0,291.0 L122.9,291.3 L121.9,291.8 L120.9,292.5 L120.1,293.5 L118.7,294.7 L118.7,296.0 L117.5,297.6 L117.7,299.2 L116.7,301.2 L117.2,303.0 L116.4,305.2 L117.0,307.3 L116.4,309.6 L117.3,311.8 L117.0,314.6 L118.3,317.0 L118.2,319.5 L119.6,321.7 L119.8,324.0 L121.4,326.0 L121.7,328.2 L123.4,330.1 L123.8,332.3 L125.6,334.2 L126.0,336.4 L127.8,338.5 L128.9,340.7 L130.0,343.0 L130.0,343.0 L130.5,340.5 L131.1,338.1 L132.4,335.7 L132.3,333.5 L133.6,331.1 L133.5,329.0 L134.7,326.7 L134.5,324.5 L135.6,322.1 L135.2,319.9 L136.1,317.4 L135.5,315.0 L136.1,312.3 L135.2,309.7 L135.6,307.4 L134.5,305.2 L134.7,303.1 L133.4,301.2 L133.4,299.2 L132.0,297.6 L131.8,296.0 L130.3,294.7 L130.0,293.4 L128.4,292.5 L127.3,291.8 L126.2,291.3 L125.1,291.0 L124.0,291.0Z" fill="none" stroke="#d8f2b8" stroke-width="1.4" opacity="0.5"/><path d="M124.0,291.0 L122.9,291.3 L121.9,291.8 L120.9,292.5 L120.1,293.5 L118.7,294.7 L118.7,296.0 L117.5,297.6 L117.7,299.2 L116.7,301.2 L117.2,303.0 L116.4,305.2 L117.0,307.3 L116.4,309.6 L117.3,311.8 L117.0,314.6 L118.3,317.0 L118.2,319.5 L119.6,321.7 L119.8,324.0 L121.4,326.0 L121.7,328.2 L123.4,330.1 L123.8,332.3 L125.6,334.2 L126.0,336.4 L127.8,338.5 L128.9,340.7 L130.0,343.0 L130.0,343.0 L130.5,340.5 L131.1,338.1 L132.4,335.7 L132.3,333.5 L133.6,331.1 L133.5,329.0 L134.7,326.7 L134.5,324.5 L135.6,322.1 L135.2,319.9 L136.1,317.4 L135.5,315.0 L136.1,312.3 L135.2,309.7 L135.6,307.4 L134.5,305.2 L134.7,303.1 L133.4,301.2 L133.4,299.2 L132.0,297.6 L131.8,296.0 L130.3,294.7 L130.0,293.4 L128.4,292.5 L127.3,291.8 L126.2,291.3 L125.1,291.0 L124.0,291.0Z" fill="url(#Lg13)"/><path d="M124.0,291.0L130.0,343.0" stroke="#a5e058" stroke-width="0.9" opacity="0.45"/><path d="M76.0,305.0 L74.4,305.1 L72.8,305.4 L71.3,306.0 L69.9,306.8 L67.9,307.8 L67.4,309.1 L65.6,310.6 L65.2,312.3 L63.7,314.1 L63.6,316.1 L62.3,318.2 L62.5,320.4 L61.4,322.7 L61.9,325.2 L61.1,328.0 L62.0,330.8 L61.7,333.3 L63.0,335.9 L63.0,338.3 L64.5,340.7 L64.8,343.0 L66.5,345.4 L66.9,347.7 L68.7,350.1 L69.1,352.4 L70.9,354.9 L72.0,357.4 L73.0,360.0 L73.0,360.0 L74.3,357.5 L75.6,355.1 L77.7,352.9 L78.4,350.6 L80.4,348.4 L81.1,346.2 L83.0,344.0 L83.5,341.8 L85.3,339.5 L85.6,337.1 L87.1,334.7 L87.1,332.1 L88.3,329.5 L87.8,326.6 L88.6,324.2 L87.8,321.8 L88.2,319.6 L87.1,317.4 L87.3,315.4 L85.9,313.4 L85.8,311.7 L84.1,310.1 L83.8,308.7 L81.9,307.5 L80.6,306.5 L79.1,305.7 L77.6,305.2 L76.0,305.0Z" fill="none" stroke="#d8f2b8" stroke-width="1.4" opacity="0.5"/><path d="M76.0,305.0 L74.4,305.1 L72.8,305.4 L71.3,306.0 L69.9,306.8 L67.9,307.8 L67.4,309.1 L65.6,310.6 L65.2,312.3 L63.7,314.1 L63.6,316.1 L62.3,318.2 L62.5,320.4 L61.4,322.7 L61.9,325.2 L61.1,328.0 L62.0,330.8 L61.7,333.3 L63.0,335.9 L63.0,338.3 L64.5,340.7 L64.8,343.0 L66.5,345.4 L66.9,347.7 L68.7,350.1 L69.1,352.4 L70.9,354.9 L72.0,357.4 L73.0,360.0 L73.0,360.0 L74.3,357.5 L75.6,355.1 L77.7,352.9 L78.4,350.6 L80.4,348.4 L81.1,346.2 L83.0,344.0 L83.5,341.8 L85.3,339.5 L85.6,337.1 L87.1,334.7 L87.1,332.1 L88.3,329.5 L87.8,326.6 L88.6,324.2 L87.8,321.8 L88.2,319.6 L87.1,317.4 L87.3,315.4 L85.9,313.4 L85.8,311.7 L84.1,310.1 L83.8,308.7 L81.9,307.5 L80.6,306.5 L79.1,305.7 L77.6,305.2 L76.0,305.0Z" fill="url(#Lg14)"/><path d="M76.0,305.0L73.0,360.0" stroke="#9ad94c" stroke-width="0.9" opacity="0.45"/><path d="M58.0,340.0 L56.8,339.1 L55.5,338.3 L54.2,337.8 L52.8,337.5 L50.9,336.9 L49.9,337.4 L47.9,337.2 L46.9,338.0 L44.9,338.1 L44.0,339.3 L42.0,339.7 L41.1,341.2 L39.2,341.9 L38.5,343.7 L36.6,344.9 L35.9,347.1 L34.5,348.5 L34.2,350.7 L33.0,352.2 L33.0,354.5 L32.1,356.0 L32.2,358.5 L31.4,360.0 L31.6,362.6 L30.8,364.2 L30.9,366.7 L30.5,368.9 L30.0,371.0 L30.0,371.0 L32.1,370.3 L34.2,369.6 L36.7,369.6 L38.2,368.6 L40.8,368.5 L42.2,367.5 L44.7,367.4 L46.1,366.3 L48.4,366.1 L49.7,364.8 L52.0,364.3 L53.1,362.7 L55.3,361.8 L56.3,359.8 L58.0,358.9 L58.5,356.9 L59.9,355.9 L60.1,353.9 L61.2,352.8 L61.1,350.8 L61.9,349.8 L61.4,347.8 L61.8,346.8 L61.0,344.9 L60.5,343.6 L59.9,342.3 L59.0,341.1 L58.0,340.0Z" fill="none" stroke="#d8f2b8" stroke-width="1.4" opacity="0.5"/><path d="M58.0,340.0 L56.8,339.1 L55.5,338.3 L54.2,337.8 L52.8,337.5 L50.9,336.9 L49.9,337.4 L47.9,337.2 L46.9,338.0 L44.9,338.1 L44.0,339.3 L42.0,339.7 L41.1,341.2 L39.2,341.9 L38.5,343.7 L36.6,344.9 L35.9,347.1 L34.5,348.5 L34.2,350.7 L33.0,352.2 L33.0,354.5 L32.1,356.0 L32.2,358.5 L31.4,360.0 L31.6,362.6 L30.8,364.2 L30.9,366.7 L30.5,368.9 L30.0,371.0 L30.0,371.0 L32.1,370.3 L34.2,369.6 L36.7,369.6 L38.2,368.6 L40.8,368.5 L42.2,367.5 L44.7,367.4 L46.1,366.3 L48.4,366.1 L49.7,364.8 L52.0,364.3 L53.1,362.7 L55.3,361.8 L56.3,359.8 L58.0,358.9 L58.5,356.9 L59.9,355.9 L60.1,353.9 L61.2,352.8 L61.1,350.8 L61.9,349.8 L61.4,347.8 L61.8,346.8 L61.0,344.9 L60.5,343.6 L59.9,342.3 L59.0,341.1 L58.0,340.0Z" fill="url(#Lg15)"/><path d="M58.0,340.0L30.0,371.0" stroke="#aee35a" stroke-width="0.9" opacity="0.45"/></svg><svg style="position:absolute;left:871px;top:0" width="115" height="697" viewBox="871 0 115 697"><g transform="translate(984,0) scale(-1,1)"><defs><linearGradient id="Rg1" gradientUnits="userSpaceOnUse" x1="125.9" y1="294.9" x2="94.1" y2="267.5"><stop offset="0" stop-color="#367a23"/><stop offset="0.5" stop-color="#3f8e29"/><stop offset="1" stop-color="#569b42"/></linearGradient><linearGradient id="Rg2" gradientUnits="userSpaceOnUse" x1="121.1" y1="267.9" x2="136.1" y2="266.5"><stop offset="0" stop-color="#327620"/><stop offset="0.5" stop-color="#3b8a26"/><stop offset="1" stop-color="#529840"/></linearGradient><linearGradient id="Rg3" gradientUnits="userSpaceOnUse" x1="29.4" y1="269.5" x2="9.4" y2="287.7"><stop offset="0" stop-color="#5ca227"/><stop offset="0.5" stop-color="#6cbd2e"/><stop offset="1" stop-color="#7dc447"/></linearGradient><linearGradient id="Rg4" gradientUnits="userSpaceOnUse" x1="44.7" y1="220.3" x2="17.3" y2="226.1"><stop offset="0" stop-color="#367924"/><stop offset="0.5" stop-color="#3f8d2b"/><stop offset="1" stop-color="#569a44"/></linearGradient><linearGradient id="Rg5" gradientUnits="userSpaceOnUse" x1="81.4" y1="245.9" x2="100.2" y2="226.5"><stop offset="0" stop-color="#367a24"/><stop offset="0.5" stop-color="#3f8f2a"/><stop offset="1" stop-color="#569c43"/></linearGradient><linearGradient id="Rg6" gradientUnits="userSpaceOnUse" x1="100.2" y1="225.6" x2="126.2" y2="232.8"><stop offset="0" stop-color="#67a831"/><stop offset="0.5" stop-color="#78c43a"/><stop offset="1" stop-color="#88cb51"/></linearGradient><linearGradient id="Rg7" gradientUnits="userSpaceOnUse" x1="55.2" y1="253.2" x2="74.0" y2="232.4"><stop offset="0" stop-color="#7db930"/><stop offset="0.5" stop-color="#92d838"/><stop offset="1" stop-color="#9fdc4f"/></linearGradient><linearGradient id="Rg8" gradientUnits="userSpaceOnUse" x1="64.6" y1="270.0" x2="59.0" y2="250.8"><stop offset="0" stop-color="#5da225"/><stop offset="0.5" stop-color="#6dbd2c"/><stop offset="1" stop-color="#7ec445"/></linearGradient><linearGradient id="Rg9" gradientUnits="userSpaceOnUse" x1="70.9" y1="296.4" x2="77.9" y2="275.6"><stop offset="0" stop-color="#549b24"/><stop offset="0.5" stop-color="#62b52a"/><stop offset="1" stop-color="#74bd43"/></linearGradient><linearGradient id="Rg10" gradientUnits="userSpaceOnUse" x1="98.8" y1="273.8" x2="78.8" y2="251.4"><stop offset="0" stop-color="#7ab925"/><stop offset="0.5" stop-color="#8fd82c"/><stop offset="1" stop-color="#9cdc45"/></linearGradient><linearGradient id="Rg11" gradientUnits="userSpaceOnUse" x1="61.8" y1="324.3" x2="44.2" y2="305.3"><stop offset="0" stop-color="#5ca425"/><stop offset="0.5" stop-color="#6cbf2c"/><stop offset="1" stop-color="#7dc645"/></linearGradient><linearGradient id="Rg12" gradientUnits="userSpaceOnUse" x1="130.2" y1="312.2" x2="105.0" y2="318.6"><stop offset="0" stop-color="#579e25"/><stop offset="0.5" stop-color="#66b82c"/><stop offset="1" stop-color="#78c045"/></linearGradient><linearGradient id="Rg13" gradientUnits="userSpaceOnUse" x1="135.3" y1="310.8" x2="117.5" y2="312.8"><stop offset="0" stop-color="#73b229"/><stop offset="0.5" stop-color="#86d030"/><stop offset="1" stop-color="#94d548"/></linearGradient><linearGradient id="Rg14" gradientUnits="userSpaceOnUse" x1="87.8" y1="327.7" x2="61.8" y2="326.3"><stop offset="0" stop-color="#6aaf25"/><stop offset="0.5" stop-color="#7ccc2c"/><stop offset="1" stop-color="#8bd245"/></linearGradient><linearGradient id="Rg15" gradientUnits="userSpaceOnUse" x1="55.7" y1="360.4" x2="37.9" y2="344.4"><stop offset="0" stop-color="#76b829"/><stop offset="0.5" stop-color="#8ad630"/><stop offset="1" stop-color="#98da48"/></linearGradient></defs><ellipse cx="46" cy="282" rx="10" ry="22" transform="rotate(-12 46 282)" fill="#dcf2cc"/><path d="M130.0,258.0 L127.9,256.4 L125.6,255.2 L123.2,254.4 L120.7,253.9 L117.6,253.3 L115.5,254.0 L112.4,254.1 L110.2,255.4 L107.0,256.1 L104.9,257.9 L101.8,259.2 L99.8,261.6 L96.9,263.4 L95.1,266.3 L92.1,269.0 L90.6,272.7 L88.4,275.5 L87.5,279.3 L85.8,282.2 L85.4,286.2 L84.1,289.3 L84.0,293.3 L82.9,296.5 L82.9,300.7 L81.8,304.0 L81.6,308.3 L80.9,312.1 L80.0,316.0 L80.0,316.0 L83.7,314.5 L87.4,313.2 L91.6,312.5 L94.7,310.9 L98.8,310.3 L101.8,308.7 L105.8,308.0 L108.7,306.3 L112.5,305.3 L115.2,303.2 L118.9,301.8 L121.3,299.1 L124.7,297.1 L126.9,293.8 L129.5,291.6 L130.9,288.4 L133.0,286.1 L133.8,282.8 L135.3,280.4 L135.5,277.2 L136.5,274.9 L136.1,271.7 L136.4,269.5 L135.4,266.6 L134.6,264.2 L133.4,261.9 L131.9,259.9 L130.0,258.0Z" fill="none" stroke="#d8f2b8" stroke-width="1.4" opacity="0.5"/><path d="M130.0,258.0 L127.9,256.4 L125.6,255.2 L123.2,254.4 L120.7,253.9 L117.6,253.3 L115.5,254.0 L112.4,254.1 L110.2,255.4 L107.0,256.1 L104.9,257.9 L101.8,259.2 L99.8,261.6 L96.9,263.4 L95.1,266.3 L92.1,269.0 L90.6,272.7 L88.4,275.5 L87.5,279.3 L85.8,282.2 L85.4,286.2 L84.1,289.3 L84.0,293.3 L82.9,296.5 L82.9,300.7 L81.8,304.0 L81.6,308.3 L80.9,312.1 L80.0,316.0 L80.0,316.0 L83.7,314.5 L87.4,313.2 L91.6,312.5 L94.7,310.9 L98.8,310.3 L101.8,308.7 L105.8,308.0 L108.7,306.3 L112.5,305.3 L115.2,303.2 L118.9,301.8 L121.3,299.1 L124.7,297.1 L126.9,293.8 L129.5,291.6 L130.9,288.4 L133.0,286.1 L133.8,282.8 L135.3,280.4 L135.5,277.2 L136.5,274.9 L136.1,271.7 L136.4,269.5 L135.4,266.6 L134.6,264.2 L133.4,261.9 L131.9,259.9 L130.0,258.0Z" fill="url(#Rg1)"/><path d="M130.0,258.0L80.0,316.0" stroke="#2f7520" stroke-width="0.9" opacity="0.45"/><path d="M131.0,292.0 L131.9,291.8 L132.8,291.2 L133.5,290.4 L134.2,289.3 L135.5,287.8 L135.3,286.3 L136.4,284.5 L136.1,282.6 L137.0,280.4 L136.5,278.1 L137.3,275.6 L136.5,273.1 L137.1,270.4 L136.2,267.7 L136.5,264.4 L135.3,261.5 L135.4,258.5 L134.1,255.9 L134.0,253.1 L132.5,250.6 L132.3,248.0 L130.7,245.6 L130.5,243.1 L128.8,240.6 L128.6,238.0 L126.9,235.5 L125.9,232.8 L125.0,230.0 L125.0,230.0 L124.6,232.9 L124.2,235.7 L123.0,238.6 L123.3,241.2 L122.1,243.9 L122.4,246.4 L121.2,249.1 L121.6,251.7 L120.6,254.4 L121.1,257.1 L120.2,260.0 L120.9,262.9 L120.3,266.0 L121.3,269.2 L120.9,272.0 L122.0,274.5 L121.7,277.1 L123.0,279.4 L122.9,281.7 L124.2,283.7 L124.2,285.7 L125.7,287.3 L125.8,288.8 L127.3,289.9 L128.2,290.9 L129.1,291.6 L130.0,291.9 L131.0,292.0Z" fill="none" stroke="#d8f2b8" stroke-width="1.4" opacity="0.5"/><path d="M131.0,292.0 L131.9,291.8 L132.8,291.2 L133.5,290.4 L134.2,289.3 L135.5,287.8 L135.3,286.3 L136.4,284.5 L136.1,282.6 L137.0,280.4 L136.5,278.1 L137.3,275.6 L136.5,273.1 L137.1,270.4 L136.2,267.7 L136.5,264.4 L135.3,261.5 L135.4,258.5 L134.1,255.9 L134.0,253.1 L132.5,250.6 L132.3,248.0 L130.7,245.6 L130.5,243.1 L128.8,240.6 L128.6,238.0 L126.9,235.5 L125.9,232.8 L125.0,230.0 L125.0,230.0 L124.6,232.9 L124.2,235.7 L123.0,238.6 L123.3,241.2 L122.1,243.9 L122.4,246.4 L121.2,249.1 L121.6,251.7 L120.6,254.4 L121.1,257.1 L120.2,260.0 L120.9,262.9 L120.3,266.0 L121.3,269.2 L120.9,272.0 L122.0,274.5 L121.7,277.1 L123.0,279.4 L122.9,281.7 L124.2,283.7 L124.2,285.7 L125.7,287.3 L125.8,288.8 L127.3,289.9 L128.2,290.9 L129.1,291.6 L130.0,291.9 L131.0,292.0Z" fill="url(#Rg2)"/><path d="M131.0,292.0L125.0,230.0" stroke="#2f7520" stroke-width="0.9" opacity="0.45"/><path d="M7.0,265.0 L5.8,266.2 L4.9,267.6 L4.1,269.0 L3.6,270.5 L2.8,272.6 L3.2,273.7 L2.7,275.9 L3.5,277.1 L3.4,279.3 L4.6,280.5 L4.9,282.7 L6.4,283.8 L7.0,285.9 L8.8,287.0 L10.0,289.2 L12.3,290.1 L13.6,291.8 L16.1,292.4 L17.5,293.8 L20.1,294.1 L21.7,295.2 L24.4,295.3 L26.1,296.4 L28.8,296.4 L30.6,297.4 L33.4,297.6 L35.7,298.2 L38.0,299.0 L38.0,299.0 L37.5,296.6 L37.0,294.3 L37.1,291.5 L36.3,289.6 L36.5,286.9 L35.6,285.1 L35.7,282.4 L34.7,280.7 L34.7,278.1 L33.5,276.5 L33.1,274.1 L31.5,272.6 L30.8,270.2 L28.8,268.8 L27.8,266.9 L25.8,266.1 L24.8,264.5 L22.7,264.0 L21.5,262.7 L19.4,262.6 L18.2,261.7 L16.0,262.0 L14.9,261.5 L12.8,262.1 L11.2,262.5 L9.7,263.1 L8.3,263.9 L7.0,265.0Z" fill="none" stroke="#d8f2b8" stroke-width="1.4" opacity="0.5"/><path d="M7.0,265.0 L5.8,266.2 L4.9,267.6 L4.1,269.0 L3.6,270.5 L2.8,272.6 L3.2,273.7 L2.7,275.9 L3.5,277.1 L3.4,279.3 L4.6,280.5 L4.9,282.7 L6.4,283.8 L7.0,285.9 L8.8,287.0 L10.0,289.2 L12.3,290.1 L13.6,291.8 L16.1,292.4 L17.5,293.8 L20.1,294.1 L21.7,295.2 L24.4,295.3 L26.1,296.4 L28.8,296.4 L30.6,297.4 L33.4,297.6 L35.7,298.2 L38.0,299.0 L38.0,299.0 L37.5,296.6 L37.0,294.3 L37.1,291.5 L36.3,289.6 L36.5,286.9 L35.6,285.1 L35.7,282.4 L34.7,280.7 L34.7,278.1 L33.5,276.5 L33.1,274.1 L31.5,272.6 L30.8,270.2 L28.8,268.8 L27.8,266.9 L25.8,266.1 L24.8,264.5 L22.7,264.0 L21.5,262.7 L19.4,262.6 L18.2,261.7 L16.0,262.0 L14.9,261.5 L12.8,262.1 L11.2,262.5 L9.7,263.1 L8.3,263.9 L7.0,265.0Z" fill="url(#Rg3)"/><path d="M7.0,265.0L38.0,299.0" stroke="#8fd050" stroke-width="0.9" opacity="0.45"/><path d="M27.0,204.0 L25.3,204.5 L23.8,205.3 L22.4,206.3 L21.1,207.5 L19.4,209.1 L19.1,210.6 L17.7,212.6 L17.8,214.4 L16.7,216.6 L17.1,218.7 L16.3,221.2 L17.1,223.4 L16.7,226.1 L17.8,228.5 L17.7,230.8 L19.1,232.6 L19.4,234.5 L21.2,236.1 L21.8,237.8 L23.9,239.2 L24.7,240.8 L26.9,242.1 L27.9,243.7 L30.2,245.1 L31.2,246.8 L33.6,248.3 L35.3,250.1 L37.0,252.0 L37.0,252.0 L37.8,249.6 L38.6,247.2 L40.2,244.9 L40.4,242.9 L42.1,240.7 L42.3,238.9 L43.8,236.8 L43.9,235.0 L45.3,232.9 L45.1,231.1 L46.2,229.0 L45.6,227.1 L46.2,224.8 L45.2,222.7 L45.3,220.1 L43.8,217.9 L43.6,215.5 L42.0,213.5 L41.5,211.5 L39.6,209.8 L38.9,208.1 L36.8,206.9 L36.0,205.6 L33.8,204.9 L32.1,204.2 L30.5,203.9 L28.7,203.8 L27.0,204.0Z" fill="none" stroke="#d8f2b8" stroke-width="1.4" opacity="0.5"/><path d="M27.0,204.0 L25.3,204.5 L23.8,205.3 L22.4,206.3 L21.1,207.5 L19.4,209.1 L19.1,210.6 L17.7,212.6 L17.8,214.4 L16.7,216.6 L17.1,218.7 L16.3,221.2 L17.1,223.4 L16.7,226.1 L17.8,228.5 L17.7,230.8 L19.1,232.6 L19.4,234.5 L21.2,236.1 L21.8,237.8 L23.9,239.2 L24.7,240.8 L26.9,242.1 L27.9,243.7 L30.2,245.1 L31.2,246.8 L33.6,248.3 L35.3,250.1 L37.0,252.0 L37.0,252.0 L37.8,249.6 L38.6,247.2 L40.2,244.9 L40.4,242.9 L42.1,240.7 L42.3,238.9 L43.8,236.8 L43.9,235.0 L45.3,232.9 L45.1,231.1 L46.2,229.0 L45.6,227.1 L46.2,224.8 L45.2,222.7 L45.3,220.1 L43.8,217.9 L43.6,215.5 L42.0,213.5 L41.5,211.5 L39.6,209.8 L38.9,208.1 L36.8,206.9 L36.0,205.6 L33.8,204.9 L32.1,204.2 L30.5,203.9 L28.7,203.8 L27.0,204.0Z" fill="url(#Rg4)"/><path d="M27.0,204.0L37.0,252.0" stroke="#2d7020" stroke-width="0.9" opacity="0.45"/><path d="M104.0,249.0 L105.1,247.7 L106.0,246.3 L106.6,244.8 L107.0,243.3 L107.8,241.2 L107.3,240.1 L107.6,237.9 L106.8,236.7 L106.7,234.5 L105.5,233.4 L105.1,231.3 L103.5,230.2 L102.7,228.1 L100.9,227.1 L99.6,225.1 L97.2,224.3 L95.8,222.6 L93.3,222.2 L91.7,221.0 L89.1,220.8 L87.5,219.8 L84.8,219.8 L83.1,218.9 L80.3,219.0 L78.5,218.1 L75.7,218.1 L73.4,217.6 L71.0,217.0 L71.0,217.0 L71.7,219.3 L72.3,221.7 L72.3,224.5 L73.3,226.2 L73.3,229.0 L74.2,230.7 L74.3,233.4 L75.4,235.0 L75.6,237.6 L76.9,239.1 L77.4,241.6 L79.1,243.0 L80.0,245.3 L82.1,246.5 L83.1,248.4 L85.2,249.1 L86.3,250.6 L88.4,251.0 L89.6,252.1 L91.8,252.1 L93.0,253.0 L95.2,252.6 L96.3,253.0 L98.4,252.2 L99.9,251.7 L101.4,251.0 L102.7,250.1 L104.0,249.0Z" fill="none" stroke="#d8f2b8" stroke-width="1.4" opacity="0.5"/><path d="M104.0,249.0 L105.1,247.7 L106.0,246.3 L106.6,244.8 L107.0,243.3 L107.8,241.2 L107.3,240.1 L107.6,237.9 L106.8,236.7 L106.7,234.5 L105.5,233.4 L105.1,231.3 L103.5,230.2 L102.7,228.1 L100.9,227.1 L99.6,225.1 L97.2,224.3 L95.8,222.6 L93.3,222.2 L91.7,221.0 L89.1,220.8 L87.5,219.8 L84.8,219.8 L83.1,218.9 L80.3,219.0 L78.5,218.1 L75.7,218.1 L73.4,217.6 L71.0,217.0 L71.0,217.0 L71.7,219.3 L72.3,221.7 L72.3,224.5 L73.3,226.2 L73.3,229.0 L74.2,230.7 L74.3,233.4 L75.4,235.0 L75.6,237.6 L76.9,239.1 L77.4,241.6 L79.1,243.0 L80.0,245.3 L82.1,246.5 L83.1,248.4 L85.2,249.1 L86.3,250.6 L88.4,251.0 L89.6,252.1 L91.8,252.1 L93.0,253.0 L95.2,252.6 L96.3,253.0 L98.4,252.2 L99.9,251.7 L101.4,251.0 L102.7,250.1 L104.0,249.0Z" fill="url(#Rg5)"/><path d="M104.0,249.0L71.0,217.0" stroke="#2f7520" stroke-width="0.9" opacity="0.45"/><path d="M108.0,248.0 L109.7,248.3 L111.3,248.4 L112.9,248.2 L114.5,247.8 L116.7,247.4 L117.5,246.4 L119.6,245.5 L120.2,244.2 L122.1,243.0 L122.6,241.2 L124.3,239.7 L124.5,237.7 L126.0,236.0 L126.0,233.7 L127.2,231.5 L126.8,228.9 L127.6,226.7 L126.8,224.2 L127.2,222.1 L126.1,219.7 L126.2,217.6 L124.9,215.2 L124.9,213.1 L123.6,210.6 L123.5,208.5 L122.2,205.9 L121.6,203.5 L121.0,201.0 L121.0,201.0 L119.2,202.9 L117.5,204.6 L115.0,206.1 L113.9,207.9 L111.4,209.3 L110.3,211.1 L108.0,212.6 L107.0,214.4 L104.8,215.9 L104.1,217.9 L102.1,219.7 L101.7,221.9 L100.0,224.0 L99.9,226.5 L98.8,228.5 L99.1,230.7 L98.3,232.6 L99.0,234.7 L98.5,236.4 L99.5,238.4 L99.3,240.0 L100.7,241.7 L100.8,243.0 L102.5,244.5 L103.7,245.7 L105.0,246.6 L106.4,247.4 L108.0,248.0Z" fill="none" stroke="#d8f2b8" stroke-width="1.4" opacity="0.5"/><path d="M108.0,248.0 L109.7,248.3 L111.3,248.4 L112.9,248.2 L114.5,247.8 L116.7,247.4 L117.5,246.4 L119.6,245.5 L120.2,244.2 L122.1,243.0 L122.6,241.2 L124.3,239.7 L124.5,237.7 L126.0,236.0 L126.0,233.7 L127.2,231.5 L126.8,228.9 L127.6,226.7 L126.8,224.2 L127.2,222.1 L126.1,219.7 L126.2,217.6 L124.9,215.2 L124.9,213.1 L123.6,210.6 L123.5,208.5 L122.2,205.9 L121.6,203.5 L121.0,201.0 L121.0,201.0 L119.2,202.9 L117.5,204.6 L115.0,206.1 L113.9,207.9 L111.4,209.3 L110.3,211.1 L108.0,212.6 L107.0,214.4 L104.8,215.9 L104.1,217.9 L102.1,219.7 L101.7,221.9 L100.0,224.0 L99.9,226.5 L98.8,228.5 L99.1,230.7 L98.3,232.6 L99.0,234.7 L98.5,236.4 L99.5,238.4 L99.3,240.0 L100.7,241.7 L100.8,243.0 L102.5,244.5 L103.7,245.7 L105.0,246.6 L106.4,247.4 L108.0,248.0Z" fill="url(#Rg6)"/><path d="M108.0,248.0L121.0,201.0" stroke="#9bd860" stroke-width="0.9" opacity="0.45"/><path d="M77.0,254.0 L78.1,252.6 L79.0,251.2 L79.7,249.7 L80.1,248.1 L80.9,246.0 L80.5,244.9 L80.8,242.8 L80.0,241.7 L80.0,239.6 L78.9,238.6 L78.5,236.6 L77.1,235.7 L76.4,233.8 L74.6,233.0 L73.4,231.1 L71.2,230.5 L69.8,229.1 L67.4,228.9 L65.9,227.8 L63.4,227.9 L61.9,227.1 L59.3,227.4 L57.6,226.7 L54.9,227.0 L53.2,226.3 L50.5,226.7 L48.3,226.4 L46.0,226.0 L46.0,226.0 L46.6,228.2 L47.1,230.4 L47.1,233.1 L47.9,234.8 L47.9,237.5 L48.7,239.1 L48.7,241.7 L49.7,243.2 L49.8,245.6 L51.1,247.0 L51.5,249.4 L53.0,250.6 L53.8,252.7 L55.8,253.7 L56.8,255.4 L58.8,255.9 L59.8,257.3 L61.9,257.4 L63.0,258.5 L65.1,258.3 L66.3,258.9 L68.3,258.4 L69.5,258.6 L71.5,257.7 L73.0,257.1 L74.4,256.3 L75.7,255.2 L77.0,254.0Z" fill="none" stroke="#d8f2b8" stroke-width="1.4" opacity="0.5"/><path d="M77.0,254.0 L78.1,252.6 L79.0,251.2 L79.7,249.7 L80.1,248.1 L80.9,246.0 L80.5,244.9 L80.8,242.8 L80.0,241.7 L80.0,239.6 L78.9,238.6 L78.5,236.6 L77.1,235.7 L76.4,233.8 L74.6,233.0 L73.4,231.1 L71.2,230.5 L69.8,229.1 L67.4,228.9 L65.9,227.8 L63.4,227.9 L61.9,227.1 L59.3,227.4 L57.6,226.7 L54.9,227.0 L53.2,226.3 L50.5,226.7 L48.3,226.4 L46.0,226.0 L46.0,226.0 L46.6,228.2 L47.1,230.4 L47.1,233.1 L47.9,234.8 L47.9,237.5 L48.7,239.1 L48.7,241.7 L49.7,243.2 L49.8,245.6 L51.1,247.0 L51.5,249.4 L53.0,250.6 L53.8,252.7 L55.8,253.7 L56.8,255.4 L58.8,255.9 L59.8,257.3 L61.9,257.4 L63.0,258.5 L65.1,258.3 L66.3,258.9 L68.3,258.4 L69.5,258.6 L71.5,257.7 L73.0,257.1 L74.4,256.3 L75.7,255.2 L77.0,254.0Z" fill="url(#Rg7)"/><path d="M77.0,254.0L46.0,226.0" stroke="#b0e660" stroke-width="0.9" opacity="0.45"/><path d="M77.0,256.0 L76.6,254.8 L75.9,253.8 L75.2,252.8 L74.2,252.0 L73.0,250.6 L72.0,250.7 L70.5,249.6 L69.4,249.9 L67.7,249.0 L66.4,249.6 L64.6,249.0 L63.1,249.8 L61.3,249.5 L59.8,250.6 L57.6,250.6 L56.0,252.0 L54.2,252.2 L52.8,253.9 L51.1,254.4 L49.9,256.2 L48.4,256.8 L47.3,258.8 L45.8,259.4 L44.6,261.5 L43.1,262.2 L41.9,264.3 L40.5,265.6 L39.0,267.0 L39.0,267.0 L41.0,267.3 L42.9,267.7 L45.0,268.9 L46.7,268.7 L48.8,269.8 L50.4,269.6 L52.4,270.6 L54.0,270.3 L56.0,271.2 L57.7,270.7 L59.7,271.4 L61.4,270.6 L63.5,270.9 L65.3,269.8 L67.2,269.9 L68.6,268.6 L70.2,268.5 L71.4,267.1 L72.9,266.8 L73.8,265.2 L75.0,264.9 L75.6,263.1 L76.5,262.7 L76.8,260.9 L77.1,259.7 L77.3,258.5 L77.3,257.2 L77.0,256.0Z" fill="none" stroke="#d8f2b8" stroke-width="1.4" opacity="0.5"/><path d="M77.0,256.0 L76.6,254.8 L75.9,253.8 L75.2,252.8 L74.2,252.0 L73.0,250.6 L72.0,250.7 L70.5,249.6 L69.4,249.9 L67.7,249.0 L66.4,249.6 L64.6,249.0 L63.1,249.8 L61.3,249.5 L59.8,250.6 L57.6,250.6 L56.0,252.0 L54.2,252.2 L52.8,253.9 L51.1,254.4 L49.9,256.2 L48.4,256.8 L47.3,258.8 L45.8,259.4 L44.6,261.5 L43.1,262.2 L41.9,264.3 L40.5,265.6 L39.0,267.0 L39.0,267.0 L41.0,267.3 L42.9,267.7 L45.0,268.9 L46.7,268.7 L48.8,269.8 L50.4,269.6 L52.4,270.6 L54.0,270.3 L56.0,271.2 L57.7,270.7 L59.7,271.4 L61.4,270.6 L63.5,270.9 L65.3,269.8 L67.2,269.9 L68.6,268.6 L70.2,268.5 L71.4,267.1 L72.9,266.8 L73.8,265.2 L75.0,264.9 L75.6,263.1 L76.5,262.7 L76.8,260.9 L77.1,259.7 L77.3,258.5 L77.3,257.2 L77.0,256.0Z" fill="url(#Rg8)"/><path d="M77.0,256.0L39.0,267.0" stroke="#8ed24a" stroke-width="0.9" opacity="0.45"/><path d="M92.0,292.0 L92.3,290.7 L92.4,289.3 L92.3,288.0 L91.9,286.6 L91.6,284.6 L90.6,284.0 L89.9,282.1 L88.5,281.6 L87.5,279.8 L85.8,279.4 L84.5,277.7 L82.6,277.4 L81.0,276.0 L78.8,275.9 L76.7,274.5 L74.3,274.7 L72.3,273.8 L69.9,274.3 L68.0,273.7 L65.6,274.5 L63.7,274.1 L61.4,275.0 L59.4,274.7 L57.1,275.8 L55.1,275.5 L52.6,276.5 L50.3,276.8 L48.0,277.0 L48.0,277.0 L49.7,278.6 L51.3,280.2 L52.7,282.5 L54.4,283.5 L55.7,285.8 L57.4,286.7 L58.6,288.9 L60.4,289.7 L61.8,291.8 L63.7,292.5 L65.3,294.4 L67.4,294.8 L69.3,296.5 L71.7,296.7 L73.5,298.0 L75.6,297.8 L77.3,298.7 L79.4,298.2 L81.0,298.9 L82.9,298.1 L84.3,298.5 L86.0,297.5 L87.2,297.6 L88.7,296.2 L89.8,295.4 L90.7,294.4 L91.4,293.3 L92.0,292.0Z" fill="none" stroke="#d8f2b8" stroke-width="1.4" opacity="0.5"/><path d="M92.0,292.0 L92.3,290.7 L92.4,289.3 L92.3,288.0 L91.9,286.6 L91.6,284.6 L90.6,284.0 L89.9,282.1 L88.5,281.6 L87.5,279.8 L85.8,279.4 L84.5,277.7 L82.6,277.4 L81.0,276.0 L78.8,275.9 L76.7,274.5 L74.3,274.7 L72.3,273.8 L69.9,274.3 L68.0,273.7 L65.6,274.5 L63.7,274.1 L61.4,275.0 L59.4,274.7 L57.1,275.8 L55.1,275.5 L52.6,276.5 L50.3,276.8 L48.0,277.0 L48.0,277.0 L49.7,278.6 L51.3,280.2 L52.7,282.5 L54.4,283.5 L55.7,285.8 L57.4,286.7 L58.6,288.9 L60.4,289.7 L61.8,291.8 L63.7,292.5 L65.3,294.4 L67.4,294.8 L69.3,296.5 L71.7,296.7 L73.5,298.0 L75.6,297.8 L77.3,298.7 L79.4,298.2 L81.0,298.9 L82.9,298.1 L84.3,298.5 L86.0,297.5 L87.2,297.6 L88.7,296.2 L89.8,295.4 L90.7,294.4 L91.4,293.3 L92.0,292.0Z" fill="url(#Rg9)"/><path d="M92.0,292.0L48.0,277.0" stroke="#80c84a" stroke-width="0.9" opacity="0.45"/><path d="M104.0,249.0 L102.6,247.7 L101.2,246.6 L99.6,245.8 L97.9,245.2 L95.7,244.3 L94.4,244.6 L92.0,244.2 L90.6,245.0 L88.3,244.9 L86.8,246.1 L84.5,246.5 L83.1,248.1 L80.8,248.8 L79.6,250.7 L77.2,252.1 L76.1,254.6 L74.2,256.1 L73.5,258.7 L72.0,260.4 L71.6,263.2 L70.4,265.0 L70.2,267.9 L69.1,269.9 L68.9,272.9 L67.8,274.8 L67.6,277.9 L66.9,280.4 L66.0,283.0 L66.0,283.0 L68.6,282.4 L71.3,281.9 L74.3,282.1 L76.4,281.2 L79.4,281.4 L81.4,280.5 L84.3,280.6 L86.3,279.6 L89.1,279.5 L90.9,278.2 L93.7,277.8 L95.4,276.1 L98.0,275.3 L99.6,273.1 L101.6,272.1 L102.6,269.9 L104.4,268.7 L105.0,266.4 L106.3,265.1 L106.5,262.7 L107.5,261.4 L107.3,259.1 L107.8,257.8 L107.1,255.5 L106.7,253.7 L106.1,252.1 L105.2,250.5 L104.0,249.0Z" fill="none" stroke="#d8f2b8" stroke-width="1.4" opacity="0.5"/><path d="M104.0,249.0 L102.6,247.7 L101.2,246.6 L99.6,245.8 L97.9,245.2 L95.7,244.3 L94.4,244.6 L92.0,244.2 L90.6,245.0 L88.3,244.9 L86.8,246.1 L84.5,246.5 L83.1,248.1 L80.8,248.8 L79.6,250.7 L77.2,252.1 L76.1,254.6 L74.2,256.1 L73.5,258.7 L72.0,260.4 L71.6,263.2 L70.4,265.0 L70.2,267.9 L69.1,269.9 L68.9,272.9 L67.8,274.8 L67.6,277.9 L66.9,280.4 L66.0,283.0 L66.0,283.0 L68.6,282.4 L71.3,281.9 L74.3,282.1 L76.4,281.2 L79.4,281.4 L81.4,280.5 L84.3,280.6 L86.3,279.6 L89.1,279.5 L90.9,278.2 L93.7,277.8 L95.4,276.1 L98.0,275.3 L99.6,273.1 L101.6,272.1 L102.6,269.9 L104.4,268.7 L105.0,266.4 L106.3,265.1 L106.5,262.7 L107.5,261.4 L107.3,259.1 L107.8,257.8 L107.1,255.5 L106.7,253.7 L106.1,252.1 L105.2,250.5 L104.0,249.0Z" fill="url(#Rg10)"/><path d="M104.0,249.0L66.0,283.0" stroke="#aee556" stroke-width="0.9" opacity="0.45"/><path d="M69.0,300.0 L67.8,298.9 L66.4,298.0 L65.0,297.4 L63.4,297.0 L61.2,296.4 L60.0,296.9 L57.7,296.7 L56.3,297.7 L53.9,297.9 L52.5,299.2 L50.1,299.8 L48.7,301.5 L46.3,302.4 L45.0,304.5 L42.5,306.0 L41.2,308.6 L39.2,310.2 L38.4,312.9 L36.7,314.6 L36.2,317.4 L34.8,319.2 L34.4,322.1 L33.1,324.0 L32.7,326.9 L31.4,328.9 L31.0,331.9 L30.1,334.4 L29.0,337.0 L29.0,337.0 L31.6,336.1 L34.2,335.4 L37.3,335.2 L39.3,334.1 L42.3,334.0 L44.3,332.8 L47.2,332.6 L49.1,331.4 L51.9,331.0 L53.8,329.5 L56.5,328.9 L58.3,327.0 L61.0,325.9 L62.6,323.6 L64.8,322.4 L65.9,320.2 L67.7,318.9 L68.5,316.5 L70.0,315.2 L70.3,312.9 L71.4,311.6 L71.3,309.3 L72.0,308.0 L71.5,305.8 L71.3,304.2 L70.8,302.7 L70.0,301.3 L69.0,300.0Z" fill="none" stroke="#d8f2b8" stroke-width="1.4" opacity="0.5"/><path d="M69.0,300.0 L67.8,298.9 L66.4,298.0 L65.0,297.4 L63.4,297.0 L61.2,296.4 L60.0,296.9 L57.7,296.7 L56.3,297.7 L53.9,297.9 L52.5,299.2 L50.1,299.8 L48.7,301.5 L46.3,302.4 L45.0,304.5 L42.5,306.0 L41.2,308.6 L39.2,310.2 L38.4,312.9 L36.7,314.6 L36.2,317.4 L34.8,319.2 L34.4,322.1 L33.1,324.0 L32.7,326.9 L31.4,328.9 L31.0,331.9 L30.1,334.4 L29.0,337.0 L29.0,337.0 L31.6,336.1 L34.2,335.4 L37.3,335.2 L39.3,334.1 L42.3,334.0 L44.3,332.8 L47.2,332.6 L49.1,331.4 L51.9,331.0 L53.8,329.5 L56.5,328.9 L58.3,327.0 L61.0,325.9 L62.6,323.6 L64.8,322.4 L65.9,320.2 L67.7,318.9 L68.5,316.5 L70.0,315.2 L70.3,312.9 L71.4,311.6 L71.3,309.3 L72.0,308.0 L71.5,305.8 L71.3,304.2 L70.8,302.7 L70.0,301.3 L69.0,300.0Z" fill="url(#Rg11)"/><path d="M69.0,300.0L29.0,337.0" stroke="#8cd14c" stroke-width="0.9" opacity="0.45"/><path d="M112.0,293.0 L110.5,293.5 L109.1,294.3 L107.8,295.4 L106.7,296.6 L105.1,298.3 L105.0,299.7 L103.7,301.7 L104.0,303.5 L103.0,305.8 L103.6,307.8 L102.9,310.3 L103.8,312.5 L103.5,315.1 L104.7,317.4 L104.9,320.5 L106.6,323.0 L107.0,325.6 L109.0,327.8 L109.8,330.2 L112.0,332.2 L112.9,334.4 L115.3,336.3 L116.4,338.5 L118.8,340.3 L120.0,342.6 L122.4,344.5 L124.2,346.7 L126.0,349.0 L126.0,349.0 L126.5,346.1 L127.0,343.4 L128.3,340.5 L128.2,338.0 L129.5,335.2 L129.5,332.8 L130.7,330.0 L130.5,327.6 L131.5,324.8 L131.0,322.3 L131.7,319.5 L130.9,316.9 L131.2,313.9 L129.9,311.1 L129.9,308.5 L128.4,306.3 L128.2,304.0 L126.4,302.1 L125.9,300.0 L124.0,298.5 L123.4,296.8 L121.3,295.7 L120.5,294.4 L118.4,293.7 L116.8,293.1 L115.2,292.8 L113.6,292.7 L112.0,293.0Z" fill="none" stroke="#d8f2b8" stroke-width="1.4" opacity="0.5"/><path d="M112.0,293.0 L110.5,293.5 L109.1,294.3 L107.8,295.4 L106.7,296.6 L105.1,298.3 L105.0,299.7 L103.7,301.7 L104.0,303.5 L103.0,305.8 L103.6,307.8 L102.9,310.3 L103.8,312.5 L103.5,315.1 L104.7,317.4 L104.9,320.5 L106.6,323.0 L107.0,325.6 L109.0,327.8 L109.8,330.2 L112.0,332.2 L112.9,334.4 L115.3,336.3 L116.4,338.5 L118.8,340.3 L120.0,342.6 L122.4,344.5 L124.2,346.7 L126.0,349.0 L126.0,349.0 L126.5,346.1 L127.0,343.4 L128.3,340.5 L128.2,338.0 L129.5,335.2 L129.5,332.8 L130.7,330.0 L130.5,327.6 L131.5,324.8 L131.0,322.3 L131.7,319.5 L130.9,316.9 L131.2,313.9 L129.9,311.1 L129.9,308.5 L128.4,306.3 L128.2,304.0 L126.4,302.1 L125.9,300.0 L124.0,298.5 L123.4,296.8 L121.3,295.7 L120.5,294.4 L118.4,293.7 L116.8,293.1 L115.2,292.8 L113.6,292.7 L112.0,293.0Z" fill="url(#Rg12)"/><path d="M112.0,293.0L126.0,349.0" stroke="#80c84a" stroke-width="0.9" opacity="0.45"/><path d="M124.0,291.0 L122.9,291.3 L121.9,291.8 L120.9,292.5 L120.1,293.5 L118.7,294.7 L118.7,296.0 L117.5,297.6 L117.7,299.2 L116.7,301.2 L117.2,303.0 L116.4,305.2 L117.0,307.3 L116.4,309.6 L117.3,311.8 L117.0,314.6 L118.3,317.0 L118.2,319.5 L119.6,321.7 L119.8,324.0 L121.4,326.0 L121.7,328.2 L123.4,330.1 L123.8,332.3 L125.6,334.2 L126.0,336.4 L127.8,338.5 L128.9,340.7 L130.0,343.0 L130.0,343.0 L130.5,340.5 L131.1,338.1 L132.4,335.7 L132.3,333.5 L133.6,331.1 L133.5,329.0 L134.7,326.7 L134.5,324.5 L135.6,322.1 L135.2,319.9 L136.1,317.4 L135.5,315.0 L136.1,312.3 L135.2,309.7 L135.6,307.4 L134.5,305.2 L134.7,303.1 L133.4,301.2 L133.4,299.2 L132.0,297.6 L131.8,296.0 L130.3,294.7 L130.0,293.4 L128.4,292.5 L127.3,291.8 L126.2,291.3 L125.1,291.0 L124.0,291.0Z" fill="none" stroke="#d8f2b8" stroke-width="1.4" opacity="0.5"/><path d="M124.0,291.0 L122.9,291.3 L121.9,291.8 L120.9,292.5 L120.1,293.5 L118.7,294.7 L118.7,296.0 L117.5,297.6 L117.7,299.2 L116.7,301.2 L117.2,303.0 L116.4,305.2 L117.0,307.3 L116.4,309.6 L117.3,311.8 L117.0,314.6 L118.3,317.0 L118.2,319.5 L119.6,321.7 L119.8,324.0 L121.4,326.0 L121.7,328.2 L123.4,330.1 L123.8,332.3 L125.6,334.2 L126.0,336.4 L127.8,338.5 L128.9,340.7 L130.0,343.0 L130.0,343.0 L130.5,340.5 L131.1,338.1 L132.4,335.7 L132.3,333.5 L133.6,331.1 L133.5,329.0 L134.7,326.7 L134.5,324.5 L135.6,322.1 L135.2,319.9 L136.1,317.4 L135.5,315.0 L136.1,312.3 L135.2,309.7 L135.6,307.4 L134.5,305.2 L134.7,303.1 L133.4,301.2 L133.4,299.2 L132.0,297.6 L131.8,296.0 L130.3,294.7 L130.0,293.4 L128.4,292.5 L127.3,291.8 L126.2,291.3 L125.1,291.0 L124.0,291.0Z" fill="url(#Rg13)"/><path d="M124.0,291.0L130.0,343.0" stroke="#a5e058" stroke-width="0.9" opacity="0.45"/><path d="M76.0,305.0 L74.4,305.1 L72.8,305.4 L71.3,306.0 L69.9,306.8 L67.9,307.8 L67.4,309.1 L65.6,310.6 L65.2,312.3 L63.7,314.1 L63.6,316.1 L62.3,318.2 L62.5,320.4 L61.4,322.7 L61.9,325.2 L61.1,328.0 L62.0,330.8 L61.7,333.3 L63.0,335.9 L63.0,338.3 L64.5,340.7 L64.8,343.0 L66.5,345.4 L66.9,347.7 L68.7,350.1 L69.1,352.4 L70.9,354.9 L72.0,357.4 L73.0,360.0 L73.0,360.0 L74.3,357.5 L75.6,355.1 L77.7,352.9 L78.4,350.6 L80.4,348.4 L81.1,346.2 L83.0,344.0 L83.5,341.8 L85.3,339.5 L85.6,337.1 L87.1,334.7 L87.1,332.1 L88.3,329.5 L87.8,326.6 L88.6,324.2 L87.8,321.8 L88.2,319.6 L87.1,317.4 L87.3,315.4 L85.9,313.4 L85.8,311.7 L84.1,310.1 L83.8,308.7 L81.9,307.5 L80.6,306.5 L79.1,305.7 L77.6,305.2 L76.0,305.0Z" fill="none" stroke="#d8f2b8" stroke-width="1.4" opacity="0.5"/><path d="M76.0,305.0 L74.4,305.1 L72.8,305.4 L71.3,306.0 L69.9,306.8 L67.9,307.8 L67.4,309.1 L65.6,310.6 L65.2,312.3 L63.7,314.1 L63.6,316.1 L62.3,318.2 L62.5,320.4 L61.4,322.7 L61.9,325.2 L61.1,328.0 L62.0,330.8 L61.7,333.3 L63.0,335.9 L63.0,338.3 L64.5,340.7 L64.8,343.0 L66.5,345.4 L66.9,347.7 L68.7,350.1 L69.1,352.4 L70.9,354.9 L72.0,357.4 L73.0,360.0 L73.0,360.0 L74.3,357.5 L75.6,355.1 L77.7,352.9 L78.4,350.6 L80.4,348.4 L81.1,346.2 L83.0,344.0 L83.5,341.8 L85.3,339.5 L85.6,337.1 L87.1,334.7 L87.1,332.1 L88.3,329.5 L87.8,326.6 L88.6,324.2 L87.8,321.8 L88.2,319.6 L87.1,317.4 L87.3,315.4 L85.9,313.4 L85.8,311.7 L84.1,310.1 L83.8,308.7 L81.9,307.5 L80.6,306.5 L79.1,305.7 L77.6,305.2 L76.0,305.0Z" fill="url(#Rg14)"/><path d="M76.0,305.0L73.0,360.0" stroke="#9ad94c" stroke-width="0.9" opacity="0.45"/><path d="M58.0,340.0 L56.8,339.1 L55.5,338.3 L54.2,337.8 L52.8,337.5 L50.9,336.9 L49.9,337.4 L47.9,337.2 L46.9,338.0 L44.9,338.1 L44.0,339.3 L42.0,339.7 L41.1,341.2 L39.2,341.9 L38.5,343.7 L36.6,344.9 L35.9,347.1 L34.5,348.5 L34.2,350.7 L33.0,352.2 L33.0,354.5 L32.1,356.0 L32.2,358.5 L31.4,360.0 L31.6,362.6 L30.8,364.2 L30.9,366.7 L30.5,368.9 L30.0,371.0 L30.0,371.0 L32.1,370.3 L34.2,369.6 L36.7,369.6 L38.2,368.6 L40.8,368.5 L42.2,367.5 L44.7,367.4 L46.1,366.3 L48.4,366.1 L49.7,364.8 L52.0,364.3 L53.1,362.7 L55.3,361.8 L56.3,359.8 L58.0,358.9 L58.5,356.9 L59.9,355.9 L60.1,353.9 L61.2,352.8 L61.1,350.8 L61.9,349.8 L61.4,347.8 L61.8,346.8 L61.0,344.9 L60.5,343.6 L59.9,342.3 L59.0,341.1 L58.0,340.0Z" fill="none" stroke="#d8f2b8" stroke-width="1.4" opacity="0.5"/><path d="M58.0,340.0 L56.8,339.1 L55.5,338.3 L54.2,337.8 L52.8,337.5 L50.9,336.9 L49.9,337.4 L47.9,337.2 L46.9,338.0 L44.9,338.1 L44.0,339.3 L42.0,339.7 L41.1,341.2 L39.2,341.9 L38.5,343.7 L36.6,344.9 L35.9,347.1 L34.5,348.5 L34.2,350.7 L33.0,352.2 L33.0,354.5 L32.1,356.0 L32.2,358.5 L31.4,360.0 L31.6,362.6 L30.8,364.2 L30.9,366.7 L30.5,368.9 L30.0,371.0 L30.0,371.0 L32.1,370.3 L34.2,369.6 L36.7,369.6 L38.2,368.6 L40.8,368.5 L42.2,367.5 L44.7,367.4 L46.1,366.3 L48.4,366.1 L49.7,364.8 L52.0,364.3 L53.1,362.7 L55.3,361.8 L56.3,359.8 L58.0,358.9 L58.5,356.9 L59.9,355.9 L60.1,353.9 L61.2,352.8 L61.1,350.8 L61.9,349.8 L61.4,347.8 L61.8,346.8 L61.0,344.9 L60.5,343.6 L59.9,342.3 L59.0,341.1 L58.0,340.0Z" fill="url(#Rg15)"/><path d="M58.0,340.0L30.0,371.0" stroke="#aee35a" stroke-width="0.9" opacity="0.45"/></g></svg><div class='tx' style='left:149.35px;top:26.04px;transform:scaleX(1.1528);font-family:"Liberation Sans",sans-serif;font-size:25px;font-weight:bold;color:#2a2a2a'>Supplement Facts</div>
<div class='tx' style='left:148.73px;top:49.92px;transform:scaleX(1.2730);font-family:"Liberation Sans",sans-serif;font-size:13.5px;letter-spacing:0.6px;color:#2b2b2b;-webkit-text-stroke:0.15px #2b2b2b'>Serving Size: 1 Vegetable Capsule</div>
<div class='tx' style='left:150.00px;top:84.02px;transform:scaleX(1.2718);font-family:"Liberation Sans",sans-serif;font-size:13.5px;letter-spacing:0.6px;color:#2b2b2b;-webkit-text-stroke:0.15px #2b2b2b'>Amount Per Serving</div>
<div class='tx' style='left:663.00px;top:112.12px;transform:scaleX(1.3000);font-family:"Liberation Sans",sans-serif;font-size:13.5px;letter-spacing:0.6px;color:#2b2b2b;-webkit-text-stroke:0.15px #2b2b2b'>Amount</div>
<div class='tx' style='left:772.30px;top:112.12px;transform:scaleX(1.1740);font-family:"Liberation Sans",sans-serif;font-size:13.5px;letter-spacing:0.6px;color:#2b2b2b;-webkit-text-stroke:0.15px #2b2b2b'>% Daily</div>
<div class='tx' style='left:780.00px;top:127.62px;transform:scaleX(1.2222);font-family:"Liberation Sans",sans-serif;font-size:13.5px;letter-spacing:0.6px;color:#2b2b2b;-webkit-text-stroke:0.15px #2b2b2b'>Value</div>
<div class='tx' style='left:145.77px;top:151.92px;transform:scaleX(1.2314);font-family:"Liberation Sans",sans-serif;font-size:13.5px;letter-spacing:0.6px;color:#2b2b2b;-webkit-text-stroke:0.15px #2b2b2b'>Protease 1</div>
<div class='tx' style='left:653.00px;top:150.42px;transform:scaleX(1.1321);font-family:"Liberation Sans",sans-serif;font-size:13.5px;letter-spacing:0.6px;color:#2b2b2b;-webkit-text-stroke:0.15px #2b2b2b'>20,000 HUT</div>
<div class='tx' style='left:145.75px;top:173.46px;transform:scaleX(1.2514);font-family:"Liberation Sans",sans-serif;font-size:13.5px;letter-spacing:0.6px;color:#2b2b2b;-webkit-text-stroke:0.15px #2b2b2b'>Protease 2</div>
<div class='tx' style='left:657.30px;top:171.96px;transform:scaleX(1.1471);font-family:"Liberation Sans",sans-serif;font-size:13.5px;letter-spacing:0.6px;color:#2b2b2b;-webkit-text-stroke:0.15px #2b2b2b'>4,000 HUT</div>
<div class='tx' style='left:147.00px;top:195.00px;transform:scaleX(1.2843);font-family:"Liberation Sans",sans-serif;font-size:13.5px;letter-spacing:0.6px;color:#2b2b2b;-webkit-text-stroke:0.15px #2b2b2b'>Aspergillopepsin</div>
<div class='tx' style='left:660.92px;top:193.50px;transform:scaleX(1.0803);font-family:"Liberation Sans",sans-serif;font-size:13.5px;letter-spacing:0.6px;color:#2b2b2b;-webkit-text-stroke:0.15px #2b2b2b'>100 SAPU</div>
<div class='tx' style='left:147.00px;top:216.54px;transform:scaleX(1.2545);font-family:"Liberation Sans",sans-serif;font-size:13.5px;letter-spacing:0.6px;color:#2b2b2b;-webkit-text-stroke:0.15px #2b2b2b'>Amylase</div>
<div class='tx' style='left:663.00px;top:215.04px;transform:scaleX(1.1279);font-family:"Liberation Sans",sans-serif;font-size:13.5px;letter-spacing:0.6px;color:#2b2b2b;-webkit-text-stroke:0.15px #2b2b2b'>5,000 DU</div>
<div class='tx' style='left:145.75px;top:238.08px;transform:scaleX(1.2476);font-family:"Liberation Sans",sans-serif;font-size:13.5px;letter-spacing:0.6px;color:#2b2b2b;-webkit-text-stroke:0.15px #2b2b2b'>Lipase</div>
<div class='tx' style='left:661.26px;top:236.58px;transform:scaleX(1.1435);font-family:"Liberation Sans",sans-serif;font-size:13.5px;letter-spacing:0.6px;color:#2b2b2b;-webkit-text-stroke:0.15px #2b2b2b'>1,250 FIP</div>
<div class='tx' style='left:147.00px;top:259.62px;transform:scaleX(1.2700);font-family:"Liberation Sans",sans-serif;font-size:13.5px;letter-spacing:0.6px;color:#2b2b2b;-webkit-text-stroke:0.15px #2b2b2b'>Cellulase</div>
<div class='tx' style='left:671.60px;top:258.12px;transform:scaleX(1.1063);font-family:"Liberation Sans",sans-serif;font-size:13.5px;letter-spacing:0.6px;color:#2b2b2b;-webkit-text-stroke:0.15px #2b2b2b'>500 CU</div>
<div class='tx' style='left:147.00px;top:281.16px;transform:scaleX(1.2707);font-family:"Liberation Sans",sans-serif;font-size:13.5px;letter-spacing:0.6px;color:#2b2b2b;-webkit-text-stroke:0.15px #2b2b2b'>Glucoamylase</div>
<div class='tx' style='left:668.70px;top:279.66px;transform:scaleX(1.1480);font-family:"Liberation Sans",sans-serif;font-size:13.5px;letter-spacing:0.6px;color:#2b2b2b;-webkit-text-stroke:0.15px #2b2b2b'>50 AGU</div>
<div class='tx' style='left:145.68px;top:302.70px;transform:scaleX(1.3153);font-family:"Liberation Sans",sans-serif;font-size:13.5px;letter-spacing:0.6px;color:#2b2b2b;-webkit-text-stroke:0.15px #2b2b2b'>Invertase</div>
<div class='tx' style='left:672.50px;top:301.20px;transform:scaleX(1.0787);font-family:"Liberation Sans",sans-serif;font-size:13.5px;letter-spacing:0.6px;color:#2b2b2b;-webkit-text-stroke:0.15px #2b2b2b'>200 SU</div>
<div class='tx' style='left:147.00px;top:324.24px;transform:scaleX(1.2776);font-family:"Liberation Sans",sans-serif;font-size:13.5px;letter-spacing:0.6px;color:#2b2b2b;-webkit-text-stroke:0.15px #2b2b2b'>Alpha Galactosidase</div>
<div class='tx' style='left:667.30px;top:322.74px;transform:scaleX(1.1692);font-family:"Liberation Sans",sans-serif;font-size:13.5px;letter-spacing:0.6px;color:#2b2b2b;-webkit-text-stroke:0.15px #2b2b2b'>50 GalU</div>
<div class='tx' style='left:145.73px;top:345.78px;transform:scaleX(1.2709);font-family:"Liberation Sans",sans-serif;font-size:13.5px;letter-spacing:0.6px;color:#2b2b2b;-webkit-text-stroke:0.15px #2b2b2b'>Beta Glucanase</div>
<div class='tx' style='left:669.60px;top:344.28px;transform:scaleX(1.1120);font-family:"Liberation Sans",sans-serif;font-size:13.5px;letter-spacing:0.6px;color:#2b2b2b;-webkit-text-stroke:0.15px #2b2b2b'>65 BGU</div>
<div class='tx' style='left:145.72px;top:367.32px;transform:scaleX(1.2762);font-family:"Liberation Sans",sans-serif;font-size:13.5px;letter-spacing:0.6px;color:#2b2b2b;-webkit-text-stroke:0.15px #2b2b2b'>Pectinase</div>
<div class='tx' style='left:660.85px;top:365.82px;transform:scaleX(1.1500);font-family:"Liberation Sans",sans-serif;font-size:13.5px;letter-spacing:0.6px;color:#2b2b2b;-webkit-text-stroke:0.15px #2b2b2b'>16.9 PGU</div>
<div class='tx' style='left:147.00px;top:388.86px;transform:scaleX(1.2133);font-family:"Liberation Sans",sans-serif;font-size:13.5px;letter-spacing:0.6px;color:#2b2b2b;-webkit-text-stroke:0.15px #2b2b2b'>Xylanase</div>
<div class='tx' style='left:670.70px;top:387.36px;transform:scaleX(1.1362);font-family:"Liberation Sans",sans-serif;font-size:13.5px;letter-spacing:0.6px;color:#2b2b2b;-webkit-text-stroke:0.15px #2b2b2b'>250 XU</div>
<div class='tx' style='left:145.75px;top:410.40px;transform:scaleX(1.2549);font-family:"Liberation Sans",sans-serif;font-size:13.5px;letter-spacing:0.6px;color:#2b2b2b;-webkit-text-stroke:0.15px #2b2b2b'>Phytase</div>
<div class='tx' style='left:670.45px;top:408.90px;transform:scaleX(1.1543);font-family:"Liberation Sans",sans-serif;font-size:13.5px;letter-spacing:0.6px;color:#2b2b2b;-webkit-text-stroke:0.15px #2b2b2b'>10 FTU</div>
<div class='tx' style='left:145.68px;top:431.94px;transform:scaleX(1.3244);font-family:"Liberation Sans",sans-serif;font-size:13.5px;letter-spacing:0.6px;color:#2b2b2b;-webkit-text-stroke:0.15px #2b2b2b'>Hemicellulase</div>
<div class='tx' style='left:656.14px;top:430.44px;transform:scaleX(1.1586);font-family:"Liberation Sans",sans-serif;font-size:13.5px;letter-spacing:0.6px;color:#2b2b2b;-webkit-text-stroke:0.15px #2b2b2b'>1,000 HCU</div>
<div class='tx' style='left:145.73px;top:453.48px;transform:scaleX(1.2680);font-family:"Liberation Sans",sans-serif;font-size:13.5px;letter-spacing:0.6px;color:#2b2b2b;-webkit-text-stroke:0.15px #2b2b2b'>Lactase</div>
<div class='tx' style='left:666.70px;top:451.98px;transform:scaleX(1.1327);font-family:"Liberation Sans",sans-serif;font-size:13.5px;letter-spacing:0.6px;color:#2b2b2b;-webkit-text-stroke:0.15px #2b2b2b'>500 ALU</div>
<div class='tx' style='left:145.66px;top:475.02px;transform:scaleX(1.3359);font-family:"Liberation Sans",sans-serif;font-size:13.5px;letter-spacing:0.6px;color:#2b2b2b;-webkit-text-stroke:0.15px #2b2b2b'>Bromelain</div>
<div class='tx' style='left:654.40px;top:473.52px;transform:scaleX(1.1434);font-family:"Liberation Sans",sans-serif;font-size:13.5px;letter-spacing:0.6px;color:#2b2b2b;-webkit-text-stroke:0.15px #2b2b2b'>500,000 PU</div>
<div class='tx' style='left:145.75px;top:496.56px;transform:scaleX(1.2545);font-family:"Liberation Sans",sans-serif;font-size:13.5px;letter-spacing:0.6px;color:#2b2b2b;-webkit-text-stroke:0.15px #2b2b2b'>Papain</div>
<div class='tx' style='left:654.40px;top:495.06px;transform:scaleX(1.1434);font-family:"Liberation Sans",sans-serif;font-size:13.5px;letter-spacing:0.6px;color:#2b2b2b;-webkit-text-stroke:0.15px #2b2b2b'>500,000 PU</div>
<div class='tx' style='left:145.73px;top:518.10px;transform:scaleX(1.2719);font-family:"Liberation Sans",sans-serif;font-size:13.5px;letter-spacing:0.6px;color:#2b2b2b;-webkit-text-stroke:0.15px #2b2b2b'>Peptidase</div>
<div class='tx' style='left:658.93px;top:516.60px;transform:scaleX(1.0718);font-family:"Liberation Sans",sans-serif;font-size:13.5px;letter-spacing:0.6px;color:#2b2b2b;-webkit-text-stroke:0.15px #2b2b2b'>160 DPPIV</div>
<div class='tx' style='left:147.00px;top:542.32px;transform:scaleX(1.3037);font-family:"Liberation Sans",sans-serif;font-size:13.5px;letter-spacing:0.6px;color:#2b2b2b;-webkit-text-stroke:0.15px #2b2b2b'>* Daily Value not established.</div>
<div class='tx' style='left:137.20px;top:587.92px;transform:scaleX(1.3375);font-family:"Liberation Sans",sans-serif;font-size:13.5px;letter-spacing:0.6px;color:#2b2b2b;-webkit-text-stroke:0.15px #2b2b2b'>Other ingredients: maltodextrin, vegetable capsule (hypromellose and water), and</div>
<div class='tx' style='left:135.85px;top:603.72px;transform:scaleX(1.3475);font-family:"Liberation Sans",sans-serif;font-size:13.5px;letter-spacing:0.6px;color:#2b2b2b;-webkit-text-stroke:0.15px #2b2b2b'>medium chain triglycerides.</div>
<div class='tx' style='left:137.00px;top:644.72px;transform:scaleX(1.2226);font-family:"Liberation Sans",sans-serif;font-size:13.5px;letter-spacing:0.6px;color:#2b2b2b;-webkit-text-stroke:0.15px #2b2b2b'>ALLERGENS: CONTAINS DAIRY, SOY AND WHEAT (From a fermentation process</div>
<div class='tx' style='left:135.67px;top:660.52px;transform:scaleX(1.3302);font-family:"Liberation Sans",sans-serif;font-size:13.5px;letter-spacing:0.6px;color:#2b2b2b;-webkit-text-stroke:0.15px #2b2b2b'>including dairy, soy and wheat).</div>
<div class='tx' style='left:135.00px;top:686.70px;transform:scaleX(0.9450);font-family:"Liberation Sans",sans-serif;font-size:20.5px;color:#333;-webkit-text-stroke:0.7px #333'>Gluten-Free</div>

</body></html>
